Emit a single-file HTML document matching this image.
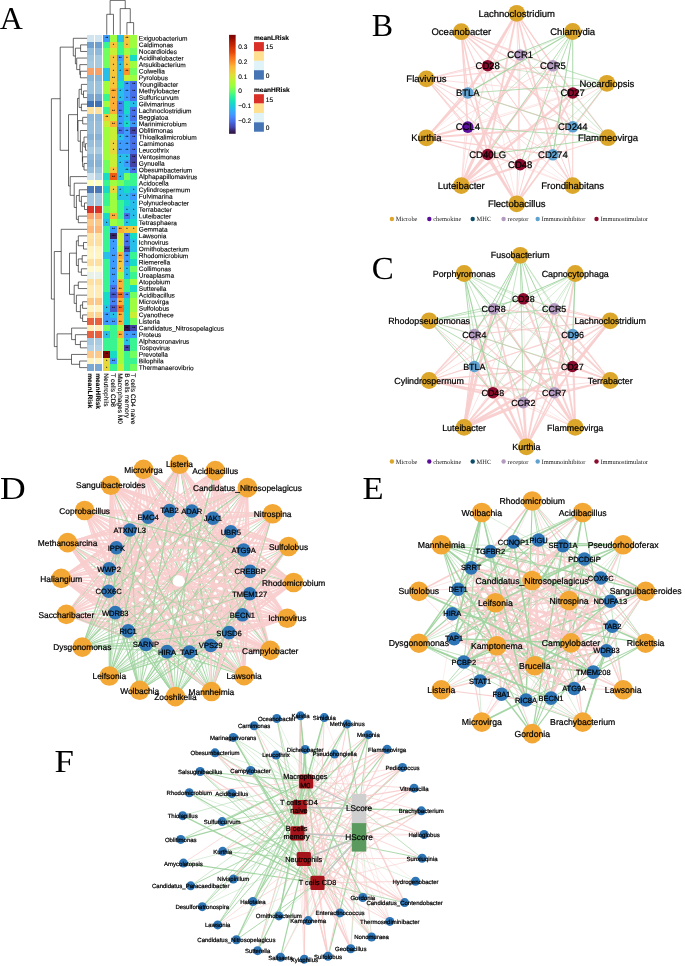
<!DOCTYPE html>
<html lang="en"><head><meta charset="utf-8"><title>Figure</title>
<style>
html,body{margin:0;padding:0;background:#fff;}
body{width:685px;height:966px;overflow:hidden;}
svg{display:block;}
.p{stroke:#f9cdcd;stroke-opacity:.92}
.g{stroke:#a0d3a0;stroke-opacity:.96}
text{text-rendering:geometricPrecision}
.nl text{stroke:#000;stroke-width:.22px;stroke-linejoin:round}
.hl text{stroke:#000;stroke-width:.12px}
</style></head><body>
<svg width="685" height="966" viewBox="0 0 685 966">
<rect x="0" y="0" width="685" height="966" fill="#ffffff"/>
<g shape-rendering="crispEdges">
<rect x="87.2" y="35" width="6.7" height="6.64" fill="#d1e5f0"/>
<rect x="94.9" y="35" width="6.7" height="6.64" fill="#d1e5f0"/>
<rect x="103.4" y="35" width="6.77" height="6.64" fill="#3e9bfe"/>
<rect x="110.12" y="35" width="6.77" height="6.64" fill="#9ffd3f"/>
<rect x="116.84" y="35" width="6.77" height="6.64" fill="#27bee9"/>
<rect x="123.56" y="35" width="6.77" height="6.64" fill="#f5c53a"/>
<rect x="130.28" y="35" width="6.77" height="6.64" fill="#9ffd3f"/>
<rect x="87.2" y="41.59" width="6.7" height="6.64" fill="#6f9fcf"/>
<rect x="94.9" y="41.59" width="6.7" height="6.64" fill="#6f9fcf"/>
<rect x="103.4" y="41.59" width="6.77" height="6.64" fill="#38f491"/>
<rect x="110.12" y="41.59" width="6.77" height="6.64" fill="#f5c53a"/>
<rect x="116.84" y="41.59" width="6.77" height="6.64" fill="#38f491"/>
<rect x="123.56" y="41.59" width="6.77" height="6.64" fill="#f5c53a"/>
<rect x="130.28" y="41.59" width="6.77" height="6.64" fill="#9ffd3f"/>
<rect x="87.2" y="48.17" width="6.7" height="6.64" fill="#92bedb"/>
<rect x="94.9" y="48.17" width="6.7" height="6.64" fill="#8fb9da"/>
<rect x="103.4" y="48.17" width="6.77" height="6.64" fill="#71fe5f"/>
<rect x="110.12" y="48.17" width="6.77" height="6.64" fill="#c8ef34"/>
<rect x="116.84" y="48.17" width="6.77" height="6.64" fill="#38f491"/>
<rect x="123.56" y="48.17" width="6.77" height="6.64" fill="#9ffd3f"/>
<rect x="130.28" y="48.17" width="6.77" height="6.64" fill="#71fe5f"/>
<rect x="87.2" y="54.76" width="6.7" height="6.64" fill="#a0c5de"/>
<rect x="94.9" y="54.76" width="6.7" height="6.64" fill="#a6cae0"/>
<rect x="103.4" y="54.76" width="6.77" height="6.64" fill="#71fe5f"/>
<rect x="110.12" y="54.76" width="6.77" height="6.64" fill="#f5c53a"/>
<rect x="116.84" y="54.76" width="6.77" height="6.64" fill="#3e9bfe"/>
<rect x="123.56" y="54.76" width="6.77" height="6.64" fill="#f5c53a"/>
<rect x="130.28" y="54.76" width="6.77" height="6.64" fill="#18dbc5"/>
<rect x="87.2" y="61.35" width="6.7" height="6.64" fill="#a6cae0"/>
<rect x="94.9" y="61.35" width="6.7" height="6.64" fill="#a6cae0"/>
<rect x="103.4" y="61.35" width="6.77" height="6.64" fill="#71fe5f"/>
<rect x="110.12" y="61.35" width="6.77" height="6.64" fill="#f5c53a"/>
<rect x="116.84" y="61.35" width="6.77" height="6.64" fill="#27bee9"/>
<rect x="123.56" y="61.35" width="6.77" height="6.64" fill="#f5c53a"/>
<rect x="130.28" y="61.35" width="6.77" height="6.64" fill="#9ffd3f"/>
<rect x="87.2" y="67.93" width="6.7" height="6.64" fill="#f9a066"/>
<rect x="94.9" y="67.93" width="6.7" height="6.64" fill="#f9a066"/>
<rect x="103.4" y="67.93" width="6.77" height="6.64" fill="#27bee9"/>
<rect x="110.12" y="67.93" width="6.77" height="6.64" fill="#f5c53a"/>
<rect x="116.84" y="67.93" width="6.77" height="6.64" fill="#27bee9"/>
<rect x="123.56" y="67.93" width="6.77" height="6.64" fill="#fe932a"/>
<rect x="130.28" y="67.93" width="6.77" height="6.64" fill="#71fe5f"/>
<rect x="87.2" y="74.52" width="6.7" height="6.64" fill="#8ab6d8"/>
<rect x="94.9" y="74.52" width="6.7" height="6.64" fill="#8ab6d8"/>
<rect x="103.4" y="74.52" width="6.77" height="6.64" fill="#27bee9"/>
<rect x="110.12" y="74.52" width="6.77" height="6.64" fill="#f5c53a"/>
<rect x="116.84" y="74.52" width="6.77" height="6.64" fill="#27bee9"/>
<rect x="123.56" y="74.52" width="6.77" height="6.64" fill="#c8ef34"/>
<rect x="130.28" y="74.52" width="6.77" height="6.64" fill="#9ffd3f"/>
<rect x="87.2" y="81.1" width="6.7" height="6.64" fill="#9cc3dd"/>
<rect x="94.9" y="81.1" width="6.7" height="6.64" fill="#9cc3dd"/>
<rect x="103.4" y="81.1" width="6.77" height="6.64" fill="#9ffd3f"/>
<rect x="110.12" y="81.1" width="6.77" height="6.64" fill="#f5c53a"/>
<rect x="116.84" y="81.1" width="6.77" height="6.64" fill="#18dbc5"/>
<rect x="123.56" y="81.1" width="6.77" height="6.64" fill="#3e9bfe"/>
<rect x="130.28" y="81.1" width="6.77" height="6.64" fill="#4771e9"/>
<rect x="87.2" y="87.69" width="6.7" height="6.64" fill="#9cc3dd"/>
<rect x="94.9" y="87.69" width="6.7" height="6.64" fill="#9cc3dd"/>
<rect x="103.4" y="87.69" width="6.77" height="6.64" fill="#9ffd3f"/>
<rect x="110.12" y="87.69" width="6.77" height="6.64" fill="#fdae35"/>
<rect x="116.84" y="87.69" width="6.77" height="6.64" fill="#27bee9"/>
<rect x="123.56" y="87.69" width="6.77" height="6.64" fill="#3e9bfe"/>
<rect x="130.28" y="87.69" width="6.77" height="6.64" fill="#4771e9"/>
<rect x="87.2" y="94.28" width="6.7" height="6.64" fill="#78a6d1"/>
<rect x="94.9" y="94.28" width="6.7" height="6.64" fill="#78a6d1"/>
<rect x="103.4" y="94.28" width="6.77" height="6.64" fill="#38f491"/>
<rect x="110.12" y="94.28" width="6.77" height="6.64" fill="#fdae35"/>
<rect x="116.84" y="94.28" width="6.77" height="6.64" fill="#27bee9"/>
<rect x="123.56" y="94.28" width="6.77" height="6.64" fill="#3e9bfe"/>
<rect x="130.28" y="94.28" width="6.77" height="6.64" fill="#4771e9"/>
<rect x="87.2" y="100.86" width="6.7" height="6.64" fill="#3f73b5"/>
<rect x="94.9" y="100.86" width="6.7" height="6.64" fill="#3f73b5"/>
<rect x="103.4" y="100.86" width="6.77" height="6.64" fill="#9ffd3f"/>
<rect x="110.12" y="100.86" width="6.77" height="6.64" fill="#fdae35"/>
<rect x="116.84" y="100.86" width="6.77" height="6.64" fill="#4680f6"/>
<rect x="123.56" y="100.86" width="6.77" height="6.64" fill="#18dbc5"/>
<rect x="130.28" y="100.86" width="6.77" height="6.64" fill="#27bee9"/>
<rect x="87.2" y="107.45" width="6.7" height="6.64" fill="#fee29d"/>
<rect x="94.9" y="107.45" width="6.7" height="6.64" fill="#fee29d"/>
<rect x="103.4" y="107.45" width="6.77" height="6.64" fill="#38f491"/>
<rect x="110.12" y="107.45" width="6.77" height="6.64" fill="#fdae35"/>
<rect x="116.84" y="107.45" width="6.77" height="6.64" fill="#4680f6"/>
<rect x="123.56" y="107.45" width="6.77" height="6.64" fill="#18dbc5"/>
<rect x="130.28" y="107.45" width="6.77" height="6.64" fill="#4771e9"/>
<rect x="87.2" y="114.04" width="6.7" height="6.64" fill="#8fb9da"/>
<rect x="94.9" y="114.04" width="6.7" height="6.64" fill="#8fb9da"/>
<rect x="103.4" y="114.04" width="6.77" height="6.64" fill="#f5c53a"/>
<rect x="110.12" y="114.04" width="6.77" height="6.64" fill="#c8ef34"/>
<rect x="116.84" y="114.04" width="6.77" height="6.64" fill="#3e9bfe"/>
<rect x="123.56" y="114.04" width="6.77" height="6.64" fill="#27bee9"/>
<rect x="130.28" y="114.04" width="6.77" height="6.64" fill="#4771e9"/>
<rect x="87.2" y="120.62" width="6.7" height="6.64" fill="#97bfdc"/>
<rect x="94.9" y="120.62" width="6.7" height="6.64" fill="#97bfdc"/>
<rect x="103.4" y="120.62" width="6.77" height="6.64" fill="#c8ef34"/>
<rect x="110.12" y="120.62" width="6.77" height="6.64" fill="#fdae35"/>
<rect x="116.84" y="120.62" width="6.77" height="6.64" fill="#3e9bfe"/>
<rect x="123.56" y="120.62" width="6.77" height="6.64" fill="#18dbc5"/>
<rect x="130.28" y="120.62" width="6.77" height="6.64" fill="#3e9bfe"/>
<rect x="87.2" y="127.21" width="6.7" height="6.64" fill="#97bfdc"/>
<rect x="94.9" y="127.21" width="6.7" height="6.64" fill="#97bfdc"/>
<rect x="103.4" y="127.21" width="6.77" height="6.64" fill="#9ffd3f"/>
<rect x="110.12" y="127.21" width="6.77" height="6.64" fill="#c8ef34"/>
<rect x="116.84" y="127.21" width="6.77" height="6.64" fill="#4771e9"/>
<rect x="123.56" y="127.21" width="6.77" height="6.64" fill="#3e9bfe"/>
<rect x="130.28" y="127.21" width="6.77" height="6.64" fill="#4143a7"/>
<rect x="87.2" y="133.79" width="6.7" height="6.64" fill="#86b2d6"/>
<rect x="94.9" y="133.79" width="6.7" height="6.64" fill="#86b2d6"/>
<rect x="103.4" y="133.79" width="6.77" height="6.64" fill="#9ffd3f"/>
<rect x="110.12" y="133.79" width="6.77" height="6.64" fill="#c8ef34"/>
<rect x="116.84" y="133.79" width="6.77" height="6.64" fill="#27bee9"/>
<rect x="123.56" y="133.79" width="6.77" height="6.64" fill="#3e9bfe"/>
<rect x="130.28" y="133.79" width="6.77" height="6.64" fill="#4771e9"/>
<rect x="87.2" y="140.38" width="6.7" height="6.64" fill="#97bfdc"/>
<rect x="94.9" y="140.38" width="6.7" height="6.64" fill="#97bfdc"/>
<rect x="103.4" y="140.38" width="6.77" height="6.64" fill="#9ffd3f"/>
<rect x="110.12" y="140.38" width="6.77" height="6.64" fill="#e7d739"/>
<rect x="116.84" y="140.38" width="6.77" height="6.64" fill="#3e9bfe"/>
<rect x="123.56" y="140.38" width="6.77" height="6.64" fill="#3e9bfe"/>
<rect x="130.28" y="140.38" width="6.77" height="6.64" fill="#4771e9"/>
<rect x="87.2" y="146.97" width="6.7" height="6.64" fill="#a9cce2"/>
<rect x="94.9" y="146.97" width="6.7" height="6.64" fill="#a9cce2"/>
<rect x="103.4" y="146.97" width="6.77" height="6.64" fill="#9ffd3f"/>
<rect x="110.12" y="146.97" width="6.77" height="6.64" fill="#e7d739"/>
<rect x="116.84" y="146.97" width="6.77" height="6.64" fill="#3e9bfe"/>
<rect x="123.56" y="146.97" width="6.77" height="6.64" fill="#3e9bfe"/>
<rect x="130.28" y="146.97" width="6.77" height="6.64" fill="#4771e9"/>
<rect x="87.2" y="153.55" width="6.7" height="6.64" fill="#8fb9da"/>
<rect x="94.9" y="153.55" width="6.7" height="6.64" fill="#8fb9da"/>
<rect x="103.4" y="153.55" width="6.77" height="6.64" fill="#9ffd3f"/>
<rect x="110.12" y="153.55" width="6.77" height="6.64" fill="#c8ef34"/>
<rect x="116.84" y="153.55" width="6.77" height="6.64" fill="#27bee9"/>
<rect x="123.56" y="153.55" width="6.77" height="6.64" fill="#27bee9"/>
<rect x="130.28" y="153.55" width="6.77" height="6.64" fill="#4143a7"/>
<rect x="87.2" y="160.14" width="6.7" height="6.64" fill="#86b2d6"/>
<rect x="94.9" y="160.14" width="6.7" height="6.64" fill="#86b2d6"/>
<rect x="103.4" y="160.14" width="6.77" height="6.64" fill="#71fe5f"/>
<rect x="110.12" y="160.14" width="6.77" height="6.64" fill="#c8ef34"/>
<rect x="116.84" y="160.14" width="6.77" height="6.64" fill="#27bee9"/>
<rect x="123.56" y="160.14" width="6.77" height="6.64" fill="#3e9bfe"/>
<rect x="130.28" y="160.14" width="6.77" height="6.64" fill="#4143a7"/>
<rect x="87.2" y="166.73" width="6.7" height="6.64" fill="#97bfdc"/>
<rect x="94.9" y="166.73" width="6.7" height="6.64" fill="#9cc3dd"/>
<rect x="103.4" y="166.73" width="6.77" height="6.64" fill="#71fe5f"/>
<rect x="110.12" y="166.73" width="6.77" height="6.64" fill="#f5c53a"/>
<rect x="116.84" y="166.73" width="6.77" height="6.64" fill="#27bee9"/>
<rect x="123.56" y="166.73" width="6.77" height="6.64" fill="#27bee9"/>
<rect x="130.28" y="166.73" width="6.77" height="6.64" fill="#4771e9"/>
<rect x="87.2" y="173.31" width="6.7" height="6.64" fill="#cfe3ef"/>
<rect x="94.9" y="173.31" width="6.7" height="6.64" fill="#b5d3e6"/>
<rect x="103.4" y="173.31" width="6.77" height="6.64" fill="#18dbc5"/>
<rect x="110.12" y="173.31" width="6.77" height="6.64" fill="#f05b12"/>
<rect x="116.84" y="173.31" width="6.77" height="6.64" fill="#27bee9"/>
<rect x="123.56" y="173.31" width="6.77" height="6.64" fill="#71fe5f"/>
<rect x="130.28" y="173.31" width="6.77" height="6.64" fill="#38f491"/>
<rect x="87.2" y="179.9" width="6.7" height="6.64" fill="#ffffc0"/>
<rect x="94.9" y="179.9" width="6.7" height="6.64" fill="#ffffc0"/>
<rect x="103.4" y="179.9" width="6.77" height="6.64" fill="#38f491"/>
<rect x="110.12" y="179.9" width="6.77" height="6.64" fill="#9ffd3f"/>
<rect x="116.84" y="179.9" width="6.77" height="6.64" fill="#71fe5f"/>
<rect x="123.56" y="179.9" width="6.77" height="6.64" fill="#38f491"/>
<rect x="130.28" y="179.9" width="6.77" height="6.64" fill="#38f491"/>
<rect x="87.2" y="186.48" width="6.7" height="6.64" fill="#4878b8"/>
<rect x="94.9" y="186.48" width="6.7" height="6.64" fill="#4878b8"/>
<rect x="103.4" y="186.48" width="6.77" height="6.64" fill="#18dbc5"/>
<rect x="110.12" y="186.48" width="6.77" height="6.64" fill="#e7d739"/>
<rect x="116.84" y="186.48" width="6.77" height="6.64" fill="#27bee9"/>
<rect x="123.56" y="186.48" width="6.77" height="6.64" fill="#18dbc5"/>
<rect x="130.28" y="186.48" width="6.77" height="6.64" fill="#27bee9"/>
<rect x="87.2" y="193.07" width="6.7" height="6.64" fill="#a3c8df"/>
<rect x="94.9" y="193.07" width="6.7" height="6.64" fill="#a3c8df"/>
<rect x="103.4" y="193.07" width="6.77" height="6.64" fill="#38f491"/>
<rect x="110.12" y="193.07" width="6.77" height="6.64" fill="#9ffd3f"/>
<rect x="116.84" y="193.07" width="6.77" height="6.64" fill="#27bee9"/>
<rect x="123.56" y="193.07" width="6.77" height="6.64" fill="#27bee9"/>
<rect x="130.28" y="193.07" width="6.77" height="6.64" fill="#3e9bfe"/>
<rect x="87.2" y="199.66" width="6.7" height="6.64" fill="#a3c8df"/>
<rect x="94.9" y="199.66" width="6.7" height="6.64" fill="#a3c8df"/>
<rect x="103.4" y="199.66" width="6.77" height="6.64" fill="#38f491"/>
<rect x="110.12" y="199.66" width="6.77" height="6.64" fill="#9ffd3f"/>
<rect x="116.84" y="199.66" width="6.77" height="6.64" fill="#38f491"/>
<rect x="123.56" y="199.66" width="6.77" height="6.64" fill="#18dbc5"/>
<rect x="130.28" y="199.66" width="6.77" height="6.64" fill="#27bee9"/>
<rect x="87.2" y="206.24" width="6.7" height="6.64" fill="#d93027"/>
<rect x="94.9" y="206.24" width="6.7" height="6.64" fill="#d93027"/>
<rect x="103.4" y="206.24" width="6.77" height="6.64" fill="#71fe5f"/>
<rect x="110.12" y="206.24" width="6.77" height="6.64" fill="#9ffd3f"/>
<rect x="116.84" y="206.24" width="6.77" height="6.64" fill="#38f491"/>
<rect x="123.56" y="206.24" width="6.77" height="6.64" fill="#27bee9"/>
<rect x="130.28" y="206.24" width="6.77" height="6.64" fill="#27bee9"/>
<rect x="87.2" y="212.83" width="6.7" height="6.64" fill="#fca66e"/>
<rect x="94.9" y="212.83" width="6.7" height="6.64" fill="#fca66e"/>
<rect x="103.4" y="212.83" width="6.77" height="6.64" fill="#18dbc5"/>
<rect x="110.12" y="212.83" width="6.77" height="6.64" fill="#fdae35"/>
<rect x="116.84" y="212.83" width="6.77" height="6.64" fill="#38f491"/>
<rect x="123.56" y="212.83" width="6.77" height="6.64" fill="#4771e9"/>
<rect x="130.28" y="212.83" width="6.77" height="6.64" fill="#27bee9"/>
<rect x="87.2" y="219.42" width="6.7" height="6.64" fill="#fdc986"/>
<rect x="94.9" y="219.42" width="6.7" height="6.64" fill="#fdc986"/>
<rect x="103.4" y="219.42" width="6.77" height="6.64" fill="#27bee9"/>
<rect x="110.12" y="219.42" width="6.77" height="6.64" fill="#9ffd3f"/>
<rect x="116.84" y="219.42" width="6.77" height="6.64" fill="#71fe5f"/>
<rect x="123.56" y="219.42" width="6.77" height="6.64" fill="#27bee9"/>
<rect x="130.28" y="219.42" width="6.77" height="6.64" fill="#18dbc5"/>
<rect x="87.2" y="226" width="6.7" height="6.64" fill="#fdb777"/>
<rect x="94.9" y="226" width="6.7" height="6.64" fill="#fdb777"/>
<rect x="103.4" y="226" width="6.77" height="6.64" fill="#38f491"/>
<rect x="110.12" y="226" width="6.77" height="6.64" fill="#3e9bfe"/>
<rect x="116.84" y="226" width="6.77" height="6.64" fill="#fdae35"/>
<rect x="123.56" y="226" width="6.77" height="6.64" fill="#f5c53a"/>
<rect x="130.28" y="226" width="6.77" height="6.64" fill="#f5c53a"/>
<rect x="87.2" y="232.59" width="6.7" height="6.64" fill="#fee5a5"/>
<rect x="94.9" y="232.59" width="6.7" height="6.64" fill="#fee5a5"/>
<rect x="103.4" y="232.59" width="6.77" height="6.64" fill="#38f491"/>
<rect x="110.12" y="232.59" width="6.77" height="6.64" fill="#38276d"/>
<rect x="116.84" y="232.59" width="6.77" height="6.64" fill="#c8ef34"/>
<rect x="123.56" y="232.59" width="6.77" height="6.64" fill="#4771e9"/>
<rect x="130.28" y="232.59" width="6.77" height="6.64" fill="#18dbc5"/>
<rect x="87.2" y="239.17" width="6.7" height="6.64" fill="#fee0a0"/>
<rect x="94.9" y="239.17" width="6.7" height="6.64" fill="#fee0a0"/>
<rect x="103.4" y="239.17" width="6.77" height="6.64" fill="#38f491"/>
<rect x="110.12" y="239.17" width="6.77" height="6.64" fill="#3e9bfe"/>
<rect x="116.84" y="239.17" width="6.77" height="6.64" fill="#c8ef34"/>
<rect x="123.56" y="239.17" width="6.77" height="6.64" fill="#4771e9"/>
<rect x="130.28" y="239.17" width="6.77" height="6.64" fill="#27bee9"/>
<rect x="87.2" y="245.76" width="6.7" height="6.64" fill="#fff3bf"/>
<rect x="94.9" y="245.76" width="6.7" height="6.64" fill="#fff3bf"/>
<rect x="103.4" y="245.76" width="6.77" height="6.64" fill="#38f491"/>
<rect x="110.12" y="245.76" width="6.77" height="6.64" fill="#3e9bfe"/>
<rect x="116.84" y="245.76" width="6.77" height="6.64" fill="#9ffd3f"/>
<rect x="123.56" y="245.76" width="6.77" height="6.64" fill="#4143a7"/>
<rect x="130.28" y="245.76" width="6.77" height="6.64" fill="#27bee9"/>
<rect x="87.2" y="252.35" width="6.7" height="6.64" fill="#fff6c4"/>
<rect x="94.9" y="252.35" width="6.7" height="6.64" fill="#fff6c4"/>
<rect x="103.4" y="252.35" width="6.77" height="6.64" fill="#27bee9"/>
<rect x="110.12" y="252.35" width="6.77" height="6.64" fill="#3e9bfe"/>
<rect x="116.84" y="252.35" width="6.77" height="6.64" fill="#fdae35"/>
<rect x="123.56" y="252.35" width="6.77" height="6.64" fill="#3e9bfe"/>
<rect x="130.28" y="252.35" width="6.77" height="6.64" fill="#38f491"/>
<rect x="87.2" y="258.93" width="6.7" height="6.64" fill="#fee0a0"/>
<rect x="94.9" y="258.93" width="6.7" height="6.64" fill="#fee0a0"/>
<rect x="103.4" y="258.93" width="6.77" height="6.64" fill="#38f491"/>
<rect x="110.12" y="258.93" width="6.77" height="6.64" fill="#3e9bfe"/>
<rect x="116.84" y="258.93" width="6.77" height="6.64" fill="#f5c53a"/>
<rect x="123.56" y="258.93" width="6.77" height="6.64" fill="#3e9bfe"/>
<rect x="130.28" y="258.93" width="6.77" height="6.64" fill="#18dbc5"/>
<rect x="87.2" y="265.52" width="6.7" height="6.64" fill="#fffacd"/>
<rect x="94.9" y="265.52" width="6.7" height="6.64" fill="#fffacd"/>
<rect x="103.4" y="265.52" width="6.77" height="6.64" fill="#38f491"/>
<rect x="110.12" y="265.52" width="6.77" height="6.64" fill="#3e9bfe"/>
<rect x="116.84" y="265.52" width="6.77" height="6.64" fill="#f5c53a"/>
<rect x="123.56" y="265.52" width="6.77" height="6.64" fill="#27bee9"/>
<rect x="130.28" y="265.52" width="6.77" height="6.64" fill="#71fe5f"/>
<rect x="87.2" y="272.11" width="6.7" height="6.64" fill="#e8f2e8"/>
<rect x="94.9" y="272.11" width="6.7" height="6.64" fill="#e8f2e8"/>
<rect x="103.4" y="272.11" width="6.77" height="6.64" fill="#38f491"/>
<rect x="110.12" y="272.11" width="6.77" height="6.64" fill="#3e9bfe"/>
<rect x="116.84" y="272.11" width="6.77" height="6.64" fill="#9ffd3f"/>
<rect x="123.56" y="272.11" width="6.77" height="6.64" fill="#27bee9"/>
<rect x="130.28" y="272.11" width="6.77" height="6.64" fill="#38f491"/>
<rect x="87.2" y="278.69" width="6.7" height="6.64" fill="#fee0a0"/>
<rect x="94.9" y="278.69" width="6.7" height="6.64" fill="#fee0a0"/>
<rect x="103.4" y="278.69" width="6.77" height="6.64" fill="#38f491"/>
<rect x="110.12" y="278.69" width="6.77" height="6.64" fill="#3e9bfe"/>
<rect x="116.84" y="278.69" width="6.77" height="6.64" fill="#fdae35"/>
<rect x="123.56" y="278.69" width="6.77" height="6.64" fill="#38f491"/>
<rect x="130.28" y="278.69" width="6.77" height="6.64" fill="#9ffd3f"/>
<rect x="87.2" y="285.28" width="6.7" height="6.64" fill="#ffedb5"/>
<rect x="94.9" y="285.28" width="6.7" height="6.64" fill="#ffedb5"/>
<rect x="103.4" y="285.28" width="6.77" height="6.64" fill="#38f491"/>
<rect x="110.12" y="285.28" width="6.77" height="6.64" fill="#4771e9"/>
<rect x="116.84" y="285.28" width="6.77" height="6.64" fill="#fdae35"/>
<rect x="123.56" y="285.28" width="6.77" height="6.64" fill="#38f491"/>
<rect x="130.28" y="285.28" width="6.77" height="6.64" fill="#18dbc5"/>
<rect x="87.2" y="291.86" width="6.7" height="6.64" fill="#ffedb5"/>
<rect x="94.9" y="291.86" width="6.7" height="6.64" fill="#ffedb5"/>
<rect x="103.4" y="291.86" width="6.77" height="6.64" fill="#18dbc5"/>
<rect x="110.12" y="291.86" width="6.77" height="6.64" fill="#4559cb"/>
<rect x="116.84" y="291.86" width="6.77" height="6.64" fill="#f76f1a"/>
<rect x="123.56" y="291.86" width="6.77" height="6.64" fill="#3e9bfe"/>
<rect x="130.28" y="291.86" width="6.77" height="6.64" fill="#71fe5f"/>
<rect x="87.2" y="298.45" width="6.7" height="6.64" fill="#fdc986"/>
<rect x="94.9" y="298.45" width="6.7" height="6.64" fill="#fdc986"/>
<rect x="103.4" y="298.45" width="6.77" height="6.64" fill="#18dbc5"/>
<rect x="110.12" y="298.45" width="6.77" height="6.64" fill="#4680f6"/>
<rect x="116.84" y="298.45" width="6.77" height="6.64" fill="#fdae35"/>
<rect x="123.56" y="298.45" width="6.77" height="6.64" fill="#18dbc5"/>
<rect x="130.28" y="298.45" width="6.77" height="6.64" fill="#9ffd3f"/>
<rect x="87.2" y="305.04" width="6.7" height="6.64" fill="#fff3bf"/>
<rect x="94.9" y="305.04" width="6.7" height="6.64" fill="#fff3bf"/>
<rect x="103.4" y="305.04" width="6.77" height="6.64" fill="#27bee9"/>
<rect x="110.12" y="305.04" width="6.77" height="6.64" fill="#4559cb"/>
<rect x="116.84" y="305.04" width="6.77" height="6.64" fill="#f76f1a"/>
<rect x="123.56" y="305.04" width="6.77" height="6.64" fill="#18dbc5"/>
<rect x="130.28" y="305.04" width="6.77" height="6.64" fill="#9ffd3f"/>
<rect x="87.2" y="311.62" width="6.7" height="6.64" fill="#fdd590"/>
<rect x="94.9" y="311.62" width="6.7" height="6.64" fill="#fdd590"/>
<rect x="103.4" y="311.62" width="6.77" height="6.64" fill="#3e9bfe"/>
<rect x="110.12" y="311.62" width="6.77" height="6.64" fill="#27bee9"/>
<rect x="116.84" y="311.62" width="6.77" height="6.64" fill="#fdae35"/>
<rect x="123.56" y="311.62" width="6.77" height="6.64" fill="#18dbc5"/>
<rect x="130.28" y="311.62" width="6.77" height="6.64" fill="#c8ef34"/>
<rect x="87.2" y="318.21" width="6.7" height="6.64" fill="#e9603f"/>
<rect x="94.9" y="318.21" width="6.7" height="6.64" fill="#e9603f"/>
<rect x="103.4" y="318.21" width="6.77" height="6.64" fill="#3e9bfe"/>
<rect x="110.12" y="318.21" width="6.77" height="6.64" fill="#3e9bfe"/>
<rect x="116.84" y="318.21" width="6.77" height="6.64" fill="#fdae35"/>
<rect x="123.56" y="318.21" width="6.77" height="6.64" fill="#18dbc5"/>
<rect x="130.28" y="318.21" width="6.77" height="6.64" fill="#71fe5f"/>
<rect x="87.2" y="324.8" width="6.7" height="6.64" fill="#ffedb5"/>
<rect x="94.9" y="324.8" width="6.7" height="6.64" fill="#ffedb5"/>
<rect x="103.4" y="324.8" width="6.77" height="6.64" fill="#71fe5f"/>
<rect x="110.12" y="324.8" width="6.77" height="6.64" fill="#38f491"/>
<rect x="116.84" y="324.8" width="6.77" height="6.64" fill="#9ffd3f"/>
<rect x="123.56" y="324.8" width="6.77" height="6.64" fill="#321543"/>
<rect x="130.28" y="324.8" width="6.77" height="6.64" fill="#4143a7"/>
<rect x="87.2" y="331.38" width="6.7" height="6.64" fill="#e9603f"/>
<rect x="94.9" y="331.38" width="6.7" height="6.64" fill="#e9603f"/>
<rect x="103.4" y="331.38" width="6.77" height="6.64" fill="#27bee9"/>
<rect x="110.12" y="331.38" width="6.77" height="6.64" fill="#38f491"/>
<rect x="116.84" y="331.38" width="6.77" height="6.64" fill="#fdae35"/>
<rect x="123.56" y="331.38" width="6.77" height="6.64" fill="#3e9bfe"/>
<rect x="130.28" y="331.38" width="6.77" height="6.64" fill="#3e9bfe"/>
<rect x="87.2" y="337.97" width="6.7" height="6.64" fill="#a3c8df"/>
<rect x="94.9" y="337.97" width="6.7" height="6.64" fill="#a9cce2"/>
<rect x="103.4" y="337.97" width="6.77" height="6.64" fill="#38f491"/>
<rect x="110.12" y="337.97" width="6.77" height="6.64" fill="#38f491"/>
<rect x="116.84" y="337.97" width="6.77" height="6.64" fill="#9ffd3f"/>
<rect x="123.56" y="337.97" width="6.77" height="6.64" fill="#27bee9"/>
<rect x="130.28" y="337.97" width="6.77" height="6.64" fill="#38f491"/>
<rect x="87.2" y="344.55" width="6.7" height="6.64" fill="#b5d3e6"/>
<rect x="94.9" y="344.55" width="6.7" height="6.64" fill="#b5d3e6"/>
<rect x="103.4" y="344.55" width="6.77" height="6.64" fill="#38f491"/>
<rect x="110.12" y="344.55" width="6.77" height="6.64" fill="#38f491"/>
<rect x="116.84" y="344.55" width="6.77" height="6.64" fill="#9ffd3f"/>
<rect x="123.56" y="344.55" width="6.77" height="6.64" fill="#4143a7"/>
<rect x="130.28" y="344.55" width="6.77" height="6.64" fill="#38f491"/>
<rect x="87.2" y="351.14" width="6.7" height="6.64" fill="#fdc98a"/>
<rect x="94.9" y="351.14" width="6.7" height="6.64" fill="#fdc98a"/>
<rect x="103.4" y="351.14" width="6.77" height="6.64" fill="#810602"/>
<rect x="110.12" y="351.14" width="6.77" height="6.64" fill="#18dbc5"/>
<rect x="116.84" y="351.14" width="6.77" height="6.64" fill="#9ffd3f"/>
<rect x="123.56" y="351.14" width="6.77" height="6.64" fill="#38f491"/>
<rect x="130.28" y="351.14" width="6.77" height="6.64" fill="#71fe5f"/>
<rect x="87.2" y="357.73" width="6.7" height="6.64" fill="#fff3bf"/>
<rect x="94.9" y="357.73" width="6.7" height="6.64" fill="#fff3bf"/>
<rect x="103.4" y="357.73" width="6.77" height="6.64" fill="#e7d739"/>
<rect x="110.12" y="357.73" width="6.77" height="6.64" fill="#3e9bfe"/>
<rect x="116.84" y="357.73" width="6.77" height="6.64" fill="#9ffd3f"/>
<rect x="123.56" y="357.73" width="6.77" height="6.64" fill="#38f491"/>
<rect x="130.28" y="357.73" width="6.77" height="6.64" fill="#38f491"/>
<rect x="87.2" y="364.31" width="6.7" height="6.64" fill="#7aa8d2"/>
<rect x="94.9" y="364.31" width="6.7" height="6.64" fill="#7aa8d2"/>
<rect x="103.4" y="364.31" width="6.77" height="6.64" fill="#e7d739"/>
<rect x="110.12" y="364.31" width="6.77" height="6.64" fill="#38f491"/>
<rect x="116.84" y="364.31" width="6.77" height="6.64" fill="#c8ef34"/>
<rect x="123.56" y="364.31" width="6.77" height="6.64" fill="#38f491"/>
<rect x="130.28" y="364.31" width="6.77" height="6.64" fill="#71fe5f"/>
</g>
<g font-family='"Liberation Sans", Arial, Helvetica, sans-serif' font-size="3.5" font-weight="bold" text-anchor="middle" fill="#000">
<text x="106.76" y="39.29">**</text>
<text x="126.92" y="39.29">**</text>
<text x="113.48" y="45.88">*</text>
<text x="126.92" y="45.88">*</text>
<text x="113.48" y="59.05">*</text>
<text x="120.2" y="59.05">**</text>
<text x="126.92" y="59.05">*</text>
<text x="113.48" y="65.64">*</text>
<text x="120.2" y="65.64">*</text>
<text x="126.92" y="65.64">*</text>
<text x="113.48" y="72.22">*</text>
<text x="120.2" y="72.22">*</text>
<text x="126.92" y="72.22">**</text>
<text x="113.48" y="78.81">**</text>
<text x="113.48" y="85.4">*</text>
<text x="126.92" y="85.4">**</text>
<text x="133.64" y="85.4">**</text>
<text x="113.48" y="91.98">***</text>
<text x="120.2" y="91.98">*</text>
<text x="126.92" y="91.98">**</text>
<text x="133.64" y="91.98">**</text>
<text x="113.48" y="98.57">**</text>
<text x="120.2" y="98.57">*</text>
<text x="126.92" y="98.57">*</text>
<text x="133.64" y="98.57">**</text>
<text x="113.48" y="105.16">*</text>
<text x="120.2" y="105.16">**</text>
<text x="133.64" y="105.16">*</text>
<text x="113.48" y="111.74">**</text>
<text x="120.2" y="111.74">**</text>
<text x="133.64" y="111.74">**</text>
<text x="106.76" y="118.33">**</text>
<text x="120.2" y="118.33">**</text>
<text x="126.92" y="118.33">*</text>
<text x="133.64" y="118.33">**</text>
<text x="113.48" y="124.91">**</text>
<text x="120.2" y="124.91">**</text>
<text x="126.92" y="124.91">*</text>
<text x="133.64" y="124.91">**</text>
<text x="120.2" y="131.5">**</text>
<text x="126.92" y="131.5">**</text>
<text x="133.64" y="131.5">**</text>
<text x="120.2" y="138.09">*</text>
<text x="126.92" y="138.09">**</text>
<text x="133.64" y="138.09">**</text>
<text x="113.48" y="144.67">*</text>
<text x="120.2" y="144.67">*</text>
<text x="126.92" y="144.67">**</text>
<text x="133.64" y="144.67">**</text>
<text x="113.48" y="151.26">*</text>
<text x="120.2" y="151.26">**</text>
<text x="126.92" y="151.26">**</text>
<text x="133.64" y="151.26">**</text>
<text x="120.2" y="157.85">*</text>
<text x="126.92" y="157.85">*</text>
<text x="133.64" y="157.85">**</text>
<text x="120.2" y="164.43">*</text>
<text x="126.92" y="164.43">**</text>
<text x="133.64" y="164.43">**</text>
<text x="113.48" y="171.02">*</text>
<text x="126.92" y="171.02">**</text>
<text x="133.64" y="171.02">**</text>
<text x="113.48" y="177.6">**</text>
<text x="120.2" y="177.6">*</text>
<text x="113.48" y="190.78">*</text>
<text x="120.2" y="190.78">*</text>
<text x="133.64" y="190.78">*</text>
<text x="120.2" y="197.36">*</text>
<text x="126.92" y="197.36">*</text>
<text x="133.64" y="197.36">**</text>
<text x="133.64" y="203.95">*</text>
<text x="126.92" y="210.54">*</text>
<text x="133.64" y="210.54">*</text>
<text x="113.48" y="217.12">**</text>
<text x="126.92" y="217.12">**</text>
<text x="133.64" y="217.12">*</text>
<text x="106.76" y="223.71">*</text>
<text x="126.92" y="223.71">*</text>
<text x="113.48" y="230.3">**</text>
<text x="120.2" y="230.3">**</text>
<text x="126.92" y="230.3">*</text>
<text x="133.64" y="230.3">*</text>
<text x="113.48" y="236.88">***</text>
<text x="126.92" y="236.88">**</text>
<text x="113.48" y="243.47">*</text>
<text x="126.92" y="243.47">**</text>
<text x="133.64" y="243.47">*</text>
<text x="113.48" y="250.05">*</text>
<text x="126.92" y="250.05">***</text>
<text x="113.48" y="256.64">**</text>
<text x="120.2" y="256.64">**</text>
<text x="126.92" y="256.64">**</text>
<text x="113.48" y="263.23">*</text>
<text x="120.2" y="263.23">**</text>
<text x="126.92" y="263.23">**</text>
<text x="113.48" y="269.81">**</text>
<text x="120.2" y="269.81">*</text>
<text x="126.92" y="269.81">*</text>
<text x="113.48" y="276.4">**</text>
<text x="126.92" y="276.4">*</text>
<text x="113.48" y="282.99">*</text>
<text x="120.2" y="282.99">**</text>
<text x="113.48" y="289.57">**</text>
<text x="120.2" y="289.57">**</text>
<text x="113.48" y="296.16">***</text>
<text x="120.2" y="296.16">***</text>
<text x="126.92" y="296.16">**</text>
<text x="113.48" y="302.74">**</text>
<text x="120.2" y="302.74">**</text>
<text x="106.76" y="309.33">*</text>
<text x="113.48" y="309.33">**</text>
<text x="120.2" y="309.33">**</text>
<text x="106.76" y="315.92">**</text>
<text x="113.48" y="315.92">*</text>
<text x="120.2" y="315.92">**</text>
<text x="106.76" y="322.5">**</text>
<text x="113.48" y="322.5">**</text>
<text x="120.2" y="322.5">**</text>
<text x="126.92" y="329.09">**</text>
<text x="133.64" y="329.09">**</text>
<text x="106.76" y="335.68">*</text>
<text x="120.2" y="335.68">**</text>
<text x="126.92" y="335.68">*</text>
<text x="133.64" y="335.68">**</text>
<text x="126.92" y="342.26">*</text>
<text x="126.92" y="348.85">**</text>
<text x="106.76" y="355.43">**</text>
<text x="106.76" y="362.02">*</text>
<text x="113.48" y="362.02">**</text>
<text x="106.76" y="368.61">*</text>
</g>
<g class="hl" font-family='"Liberation Sans", Arial, Helvetica, sans-serif' font-size="6.55" fill="#000">
<text transform="translate(138.8,40.49) rotate(0.4)">Exiguobacterium</text>
<text transform="translate(138.8,47.08) rotate(0.4)">Caldimonas</text>
<text transform="translate(138.8,53.67) rotate(0.4)">Nocardioides</text>
<text transform="translate(138.8,60.25) rotate(0.4)">Acidihalobacter</text>
<text transform="translate(138.8,66.84) rotate(0.4)">Arsukibacterium</text>
<text transform="translate(138.8,73.42) rotate(0.4)">Colwellia</text>
<text transform="translate(138.8,80.01) rotate(0.4)">Pyrolobus</text>
<text transform="translate(138.8,86.6) rotate(0.4)">Youngiibacter</text>
<text transform="translate(138.8,93.18) rotate(0.4)">Methylobacter</text>
<text transform="translate(138.8,99.77) rotate(0.4)">Sulfuricurvum</text>
<text transform="translate(138.8,106.36) rotate(0.4)">Gilvimarinus</text>
<text transform="translate(138.8,112.94) rotate(0.4)">Lachnoclostridium</text>
<text transform="translate(138.8,119.53) rotate(0.4)">Beggiatoa</text>
<text transform="translate(138.8,126.11) rotate(0.4)">Marinimicrobium</text>
<text transform="translate(138.8,132.7) rotate(0.4)">Oblitimonas</text>
<text transform="translate(138.8,139.29) rotate(0.4)">Thioalkalimicrobium</text>
<text transform="translate(138.8,145.87) rotate(0.4)">Carnimonas</text>
<text transform="translate(138.8,152.46) rotate(0.4)">Leucothrix</text>
<text transform="translate(138.8,159.05) rotate(0.4)">Ventosimonas</text>
<text transform="translate(138.8,165.63) rotate(0.4)">Gynuella</text>
<text transform="translate(138.8,172.22) rotate(0.4)">Obesumbacterium</text>
<text transform="translate(138.8,178.8) rotate(0.4)">Alphapapillomavirus</text>
<text transform="translate(138.8,185.39) rotate(0.4)">Acidocella</text>
<text transform="translate(138.8,191.98) rotate(0.4)">Cylindrospermum</text>
<text transform="translate(138.8,198.56) rotate(0.4)">Fulvimarina</text>
<text transform="translate(138.8,205.15) rotate(0.4)">Polynucleobacter</text>
<text transform="translate(138.8,211.74) rotate(0.4)">Terrabacter</text>
<text transform="translate(138.8,218.32) rotate(0.4)">Luteibacter</text>
<text transform="translate(138.8,224.91) rotate(0.4)">Tetrasphaera</text>
<text transform="translate(138.8,231.5) rotate(0.4)">Gemmata</text>
<text transform="translate(138.8,238.08) rotate(0.4)">Lawsonia</text>
<text transform="translate(138.8,244.67) rotate(0.4)">Ichnovirus</text>
<text transform="translate(138.8,251.25) rotate(0.4)">Ornithobacterium</text>
<text transform="translate(138.8,257.84) rotate(0.4)">Rhodomicrobium</text>
<text transform="translate(138.8,264.43) rotate(0.4)">Riemerella</text>
<text transform="translate(138.8,271.01) rotate(0.4)">Collimonas</text>
<text transform="translate(138.8,277.6) rotate(0.4)">Ureaplasma</text>
<text transform="translate(138.8,284.19) rotate(0.4)">Atopobium</text>
<text transform="translate(138.8,290.77) rotate(0.4)">Sutterella</text>
<text transform="translate(138.8,297.36) rotate(0.4)">Acidibacillus</text>
<text transform="translate(138.8,303.94) rotate(0.4)">Microvirga</text>
<text transform="translate(138.8,310.53) rotate(0.4)">Sulfolobus</text>
<text transform="translate(138.8,317.12) rotate(0.4)">Cyanothece</text>
<text transform="translate(138.8,323.7) rotate(0.4)">Listeria</text>
<text transform="translate(138.8,330.29) rotate(0.4)">Candidatus_Nitrosopelagicus</text>
<text transform="translate(138.8,336.88) rotate(0.4)">Proteus</text>
<text transform="translate(138.8,343.46) rotate(0.4)">Alphacoronavirus</text>
<text transform="translate(138.8,350.05) rotate(0.4)">Tospovirus</text>
<text transform="translate(138.8,356.63) rotate(0.4)">Prevotella</text>
<text transform="translate(138.8,363.22) rotate(0.4)">Bilophila</text>
<text transform="translate(138.8,369.81) rotate(0.4)">Thermanaerovibrio</text>
</g>
<g class="hl" font-family='"Liberation Sans", Arial, Helvetica, sans-serif' font-size="6.55" fill="#000">
<text transform="translate(88.25,373.3) rotate(90)" font-weight="bold">meanLRisk</text>
<text transform="translate(95.95,373.3) rotate(90)" font-weight="bold">meanHRisk</text>
<text transform="translate(104.46,373.3) rotate(90)">Neutrophils</text>
<text transform="translate(111.18,373.3) rotate(90)">T cells CD8</text>
<text transform="translate(117.9,373.3) rotate(90)">Macrophages M0</text>
<text transform="translate(124.62,373.3) rotate(90)">B cells memory</text>
<text transform="translate(131.34,373.3) rotate(90)">T cells CD4 naive</text>
</g>
<path d="M87.1 44.88H80.6V51.47H87.1M87.1 71.22H80.4V77.81H87.1M87.1 64.64H79.8V74.52H80.4M87.1 58.05H76.7V69.58H79.8M80.6 48.17H75.4V63.81H76.7M87.1 38.29H73.3V55.99H75.4M87.1 90.98H83.5V97.57H87.1M87.1 84.4H81.4V94.28H83.5M87.1 104.16H81.4V110.74H87.1M81.4 89.34H79.1V107.45H81.4M87.1 117.33H82.7V123.91H87.1M87.1 143.67H85.5V150.26H87.1M87.1 137.09H84V146.97H85.5M87.1 163.43H84V170.02H87.1M87.1 156.85H82.6V166.73H84M84 142.03H82.4V161.79H82.6M87.1 130.5H80.4V151.91H82.4M82.7 120.62H78V141.2H80.4M79.1 98.39H77.5V130.91H78M87.1 202.95H84.5V209.54H87.1M87.1 196.36H81.4V206.24H84.5M87.1 189.78H79.3V201.3H81.4M87.1 216.12H78.3V222.71H87.1M79.3 195.54H76.4V219.42H78.3M87.1 183.19H74.2V207.48H76.4M87.1 176.6H70.2V195.33H74.2M77.5 114.65H68.5V185.97H70.2M73.3 47.14H60.2V150.31H68.5M87.1 242.47H83.5V249.05H87.1M87.1 235.88H78.3V245.76H83.5M87.1 255.64H82.2V262.23H87.1M87.1 268.81H81.4V275.4H87.1M82.2 258.93H78.3V272.11H81.4M78.3 240.82H76.4V265.52H78.3M87.1 281.99H78.3V288.57H87.1M87.1 301.74H82.6V308.33H87.1M87.1 314.92H82.6V321.5H87.1M82.6 305.04H80.4V318.21H82.6M87.1 295.16H76.4V311.62H80.4M78.3 285.28H74.2V303.39H76.4M76.4 253.17H69.5V294.33H74.2M87.1 229.3H61.2V273.75H69.5M87.1 341.26H80.4V347.85H87.1M87.1 334.68H75.4V344.55H80.4M87.1 328.09H71.6V339.62H75.4M87.1 361.02H79.6V367.61H87.1M87.1 354.43H71.5V364.31H79.6M71.6 333.85H57.1V359.37H71.5M61.2 251.52H54.3V346.61H57.1M60.2 98.73H51.4V299.07H54.3" fill="none" stroke="#1a1a1a" stroke-width="0.65"/>
<path d="M106.76 34.7V14.3H113.48V34.7M126.92 34.7V22.6H133.64V34.7M120.2 34.7V8.6H130.28V22.6M110.12 14.3V0.4H125.24V8.6" fill="none" stroke="#1a1a1a" stroke-width="0.65"/>
<defs><linearGradient id="tb" x1="0" y1="1" x2="0" y2="0">
<stop offset="0" stop-color="#30123b"/>
<stop offset="0.03" stop-color="#372466"/>
<stop offset="0.05" stop-color="#3d358b"/>
<stop offset="0.07" stop-color="#4249b1"/>
<stop offset="0.1" stop-color="#4559cb"/>
<stop offset="0.12" stop-color="#466be3"/>
<stop offset="0.15" stop-color="#477bf2"/>
<stop offset="0.17" stop-color="#458afc"/>
<stop offset="0.2" stop-color="#3e9bfe"/>
<stop offset="0.23" stop-color="#35abf8"/>
<stop offset="0.25" stop-color="#28bceb"/>
<stop offset="0.28" stop-color="#1fc9dd"/>
<stop offset="0.3" stop-color="#19d5cd"/>
<stop offset="0.33" stop-color="#19e2bb"/>
<stop offset="0.35" stop-color="#20eaac"/>
<stop offset="0.38" stop-color="#32f298"/>
<stop offset="0.4" stop-color="#46f884"/>
<stop offset="0.42" stop-color="#5dfc6f"/>
<stop offset="0.45" stop-color="#79fe59"/>
<stop offset="0.47" stop-color="#8fff49"/>
<stop offset="0.5" stop-color="#a4fc3c"/>
<stop offset="0.53" stop-color="#b4f836"/>
<stop offset="0.55" stop-color="#c3f134"/>
<stop offset="0.57" stop-color="#d4e735"/>
<stop offset="0.6" stop-color="#e1dd37"/>
<stop offset="0.62" stop-color="#eecf3a"/>
<stop offset="0.65" stop-color="#f6c33a"/>
<stop offset="0.68" stop-color="#fbb637"/>
<stop offset="0.7" stop-color="#fea431"/>
<stop offset="0.72" stop-color="#fe932a"/>
<stop offset="0.75" stop-color="#fb7e21"/>
<stop offset="0.78" stop-color="#f66c19"/>
<stop offset="0.8" stop-color="#f05b12"/>
<stop offset="0.82" stop-color="#e7490c"/>
<stop offset="0.85" stop-color="#dd3d08"/>
<stop offset="0.88" stop-color="#d02f05"/>
<stop offset="0.9" stop-color="#c32503"/>
<stop offset="0.93" stop-color="#b41b01"/>
<stop offset="0.95" stop-color="#a11201"/>
<stop offset="0.97" stop-color="#8e0a01"/>
<stop offset="1" stop-color="#7a0403"/>
</linearGradient></defs>
<rect x="229.05" y="34.85" width="6.6" height="98.95" fill="url(#tb)"/>
<g class="hl" font-family='"Liberation Sans", Arial, Helvetica, sans-serif' font-size="6.55" fill="#000">
<text x="238.2" y="49">0.3</text>
<text x="238.2" y="63.8">0.2</text>
<text x="238.2" y="78.8">0.1</text>
<text x="238.2" y="93.4">0</text>
<text x="238.2" y="108.4">−0.1</text>
<text x="238.2" y="123.2">−0.2</text>
<text x="254" y="39.8" font-weight="bold">meanLRisk</text>
<rect x="254" y="42.1" width="9.9" height="9.4" fill="#d93027"/>
<rect x="254" y="51.47" width="9.9" height="9.4" fill="#fee090"/>
<rect x="254" y="60.84" width="9.9" height="9.4" fill="#e0f3f8"/>
<rect x="254" y="70.21" width="9.9" height="9.4" fill="#4575b4"/>
<text x="265.8" y="49.4">15</text>
<text x="265.8" y="77.9">0</text>
<text x="254" y="91.9" font-weight="bold">meanHRisk</text>
<rect x="254" y="94.2" width="9.9" height="9.4" fill="#d93027"/>
<rect x="254" y="103.57" width="9.9" height="9.4" fill="#fee090"/>
<rect x="254" y="112.94" width="9.9" height="9.4" fill="#e0f3f8"/>
<rect x="254" y="122.31" width="9.9" height="9.4" fill="#4575b4"/>
<text x="265.8" y="101.5">15</text>
<text x="265.8" y="130">0</text>
</g>
<g font-family='"Liberation Serif", "Times New Roman", serif' font-size="32" fill="#000">
<text transform="translate(-0.3,28.9) scale(1.0,1)">A</text>
<text transform="translate(371.8,35.6) scale(1.0,1)">B</text>
<text transform="translate(371.8,279) scale(1.03,1)">C</text>
<text transform="translate(0,498.5) scale(1.11,1)">D</text>
<text transform="translate(362.6,498.5) scale(1.08,1)">E</text>
<text transform="translate(54.5,772) scale(1.09,1)">F</text>
</g>
<g fill="none">
<path class="p" d="M516.7 13.3L520.2 55" stroke-width="1.19"/>
<path class="p" d="M516.7 13.3L552.9 65.8" stroke-width="0.99"/>
<path class="p" d="M516.7 13.3L572.7 93" stroke-width="1.25"/>
<path class="p" d="M516.7 13.3L572.8 126.8" stroke-width="1.09"/>
<path class="p" d="M516.7 13.3L552.9 154.8" stroke-width="1.78"/>
<path class="p" d="M516.7 13.3L520.2 164.6" stroke-width="0.7"/>
<path class="p" d="M516.7 13.3L487.7 154.5" stroke-width="1.83"/>
<path class="p" d="M516.7 13.3L467.8 127.1" stroke-width="0.41"/>
<path class="p" d="M516.7 13.3L467.8 93" stroke-width="2.29"/>
<path class="p" d="M516.7 13.3L487.7 65.7" stroke-width="1.32"/>
<path class="p" d="M606.9 83.3L552.9 154.8" stroke-width="1.24"/>
<path class="p" d="M606.9 83.3L487.7 154.5" stroke-width="0.73"/>
<path class="p" d="M606.9 83.3L467.8 127.1" stroke-width="0.65"/>
<path class="p" d="M608 137.7L552.9 65.8" stroke-width="1.04"/>
<path class="p" d="M608 137.7L552.9 154.8" stroke-width="0.46"/>
<path class="p" d="M608 137.7L520.2 164.6" stroke-width="0.68"/>
<path class="p" d="M608 137.7L487.7 65.7" stroke-width="0.52"/>
<path class="p" d="M572.7 185.6L520.2 55" stroke-width="0.96"/>
<path class="p" d="M572.7 185.6L552.9 65.8" stroke-width="1.06"/>
<path class="p" d="M572.7 185.6L572.7 93" stroke-width="0.58"/>
<path class="p" d="M572.7 185.6L572.8 126.8" stroke-width="0.79"/>
<path class="p" d="M572.7 185.6L552.9 154.8" stroke-width="1.19"/>
<path class="p" d="M572.7 185.6L520.2 164.6" stroke-width="0.49"/>
<path class="p" d="M572.7 185.6L487.7 154.5" stroke-width="0.54"/>
<path class="p" d="M572.7 185.6L467.8 127.1" stroke-width="0.41"/>
<path class="p" d="M572.7 185.6L467.8 93" stroke-width="0.74"/>
<path class="p" d="M572.7 185.6L487.7 65.7" stroke-width="0.75"/>
<path class="p" d="M516.7 203.8L520.2 55" stroke-width="0.91"/>
<path class="p" d="M516.7 203.8L552.9 65.8" stroke-width="0.96"/>
<path class="p" d="M516.7 203.8L572.7 93" stroke-width="1.83"/>
<path class="p" d="M516.7 203.8L572.8 126.8" stroke-width="0.49"/>
<path class="p" d="M516.7 203.8L552.9 154.8" stroke-width="1.7"/>
<path class="p" d="M516.7 203.8L520.2 164.6" stroke-width="0.53"/>
<path class="p" d="M516.7 203.8L487.7 154.5" stroke-width="2.03"/>
<path class="p" d="M516.7 203.8L467.8 127.1" stroke-width="2.06"/>
<path class="p" d="M516.7 203.8L467.8 93" stroke-width="1.2"/>
<path class="p" d="M516.7 203.8L487.7 65.7" stroke-width="0.45"/>
<path class="p" d="M461.3 185.6L520.2 55" stroke-width="3.03"/>
<path class="p" d="M461.3 185.6L552.9 65.8" stroke-width="2"/>
<path class="p" d="M461.3 185.6L572.7 93" stroke-width="2.45"/>
<path class="p" d="M461.3 185.6L572.8 126.8" stroke-width="0.79"/>
<path class="p" d="M461.3 185.6L552.9 154.8" stroke-width="2.06"/>
<path class="p" d="M461.3 185.6L520.2 164.6" stroke-width="0.66"/>
<path class="p" d="M461.3 185.6L487.7 154.5" stroke-width="2.57"/>
<path class="p" d="M461.3 185.6L467.8 127.1" stroke-width="0.77"/>
<path class="p" d="M461.3 185.6L467.8 93" stroke-width="0.62"/>
<path class="p" d="M461.3 185.6L487.7 65.7" stroke-width="0.74"/>
<path class="p" d="M426.4 137.8L520.2 55" stroke-width="0.42"/>
<path class="p" d="M426.4 137.8L552.9 65.8" stroke-width="0.76"/>
<path class="p" d="M426.4 137.8L572.7 93" stroke-width="0.47"/>
<path class="p" d="M426.4 137.8L572.8 126.8" stroke-width="1.9"/>
<path class="p" d="M426.4 137.8L552.9 154.8" stroke-width="1.32"/>
<path class="p" d="M426.4 137.8L520.2 164.6" stroke-width="1.16"/>
<path class="p" d="M426.4 137.8L487.7 154.5" stroke-width="0.41"/>
<path class="p" d="M426.4 137.8L467.8 127.1" stroke-width="1.95"/>
<path class="p" d="M426.4 137.8L467.8 93" stroke-width="2.09"/>
<path class="p" d="M426.4 137.8L487.7 65.7" stroke-width="1.27"/>
<path class="p" d="M426.4 78.9L520.2 55" stroke-width="0.88"/>
<path class="p" d="M426.4 78.9L552.9 65.8" stroke-width="1.2"/>
<path class="p" d="M426.4 78.9L572.7 93" stroke-width="0.7"/>
<path class="p" d="M426.4 78.9L572.8 126.8" stroke-width="1.08"/>
<path class="p" d="M426.4 78.9L552.9 154.8" stroke-width="0.86"/>
<path class="p" d="M426.4 78.9L520.2 164.6" stroke-width="1.09"/>
<path class="p" d="M426.4 78.9L487.7 154.5" stroke-width="0.84"/>
<path class="p" d="M426.4 78.9L467.8 127.1" stroke-width="1.04"/>
<path class="p" d="M426.4 78.9L467.8 93" stroke-width="0.95"/>
<path class="p" d="M426.4 78.9L487.7 65.7" stroke-width="0.73"/>
<path class="p" d="M461.3 31.7L520.2 55" stroke-width="0.74"/>
<path class="p" d="M461.3 31.7L552.9 65.8" stroke-width="1.12"/>
<path class="p" d="M461.3 31.7L572.7 93" stroke-width="1.18"/>
<path class="p" d="M461.3 31.7L572.8 126.8" stroke-width="1.7"/>
<path class="p" d="M461.3 31.7L552.9 154.8" stroke-width="0.75"/>
<path class="p" d="M461.3 31.7L520.2 164.6" stroke-width="1.07"/>
<path class="p" d="M461.3 31.7L487.7 154.5" stroke-width="1.61"/>
<path class="p" d="M461.3 31.7L467.8 127.1" stroke-width="1.41"/>
<path class="p" d="M461.3 31.7L467.8 93" stroke-width="1.11"/>
<path class="p" d="M461.3 31.7L487.7 65.7" stroke-width="0.55"/>
<path class="g" d="M572.7 31.5L520.2 55" stroke-width="0.4"/>
<path class="g" d="M572.7 31.5L552.9 65.8" stroke-width="0.41"/>
<path class="g" d="M572.7 31.5L572.7 93" stroke-width="0.5"/>
<path class="g" d="M572.7 31.5L572.8 126.8" stroke-width="0.65"/>
<path class="g" d="M572.7 31.5L552.9 154.8" stroke-width="1.02"/>
<path class="g" d="M572.7 31.5L520.2 164.6" stroke-width="0.81"/>
<path class="g" d="M572.7 31.5L487.7 154.5" stroke-width="0.83"/>
<path class="g" d="M572.7 31.5L467.8 127.1" stroke-width="0.52"/>
<path class="g" d="M572.7 31.5L467.8 93" stroke-width="1.19"/>
<path class="g" d="M572.7 31.5L487.7 65.7" stroke-width="0.88"/>
<path class="g" d="M606.9 83.3L520.2 55" stroke-width="0.49"/>
<path class="g" d="M606.9 83.3L552.9 65.8" stroke-width="0.41"/>
<path class="g" d="M606.9 83.3L572.7 93" stroke-width="0.6"/>
<path class="g" d="M606.9 83.3L572.8 126.8" stroke-width="0.59"/>
<path class="g" d="M606.9 83.3L520.2 164.6" stroke-width="0.48"/>
<path class="g" d="M606.9 83.3L467.8 93" stroke-width="0.8"/>
<path class="g" d="M606.9 83.3L487.7 65.7" stroke-width="0.51"/>
<path class="g" d="M608 137.7L520.2 55" stroke-width="0.55"/>
<path class="g" d="M608 137.7L572.7 93" stroke-width="0.5"/>
<path class="g" d="M608 137.7L572.8 126.8" stroke-width="0.41"/>
<path class="g" d="M608 137.7L487.7 154.5" stroke-width="0.9"/>
<path class="g" d="M608 137.7L467.8 127.1" stroke-width="0.81"/>
<path class="g" d="M608 137.7L467.8 93" stroke-width="0.62"/>
</g>
<circle cx="516.7" cy="13.3" r="8.4" fill="#dba62a"/>
<circle cx="572.7" cy="31.5" r="8.4" fill="#dba62a"/>
<circle cx="606.9" cy="83.3" r="8.4" fill="#dba62a"/>
<circle cx="608" cy="137.7" r="8.4" fill="#dba62a"/>
<circle cx="572.7" cy="185.6" r="8.4" fill="#dba62a"/>
<circle cx="516.7" cy="203.8" r="8.4" fill="#dba62a"/>
<circle cx="461.3" cy="185.6" r="8.4" fill="#dba62a"/>
<circle cx="426.4" cy="137.8" r="8.4" fill="#dba62a"/>
<circle cx="426.4" cy="78.9" r="8.4" fill="#dba62a"/>
<circle cx="461.3" cy="31.7" r="8.4" fill="#dba62a"/>
<circle cx="520.2" cy="55" r="5.8" fill="#b39bc0"/>
<circle cx="552.9" cy="65.8" r="5.8" fill="#b39bc0"/>
<circle cx="572.7" cy="93" r="5.8" fill="#8c0a2e"/>
<circle cx="572.8" cy="126.8" r="5.8" fill="#5fa2d1"/>
<circle cx="552.9" cy="154.8" r="5.8" fill="#5fa2d1"/>
<circle cx="520.2" cy="164.6" r="5.8" fill="#8c0a2e"/>
<circle cx="487.7" cy="154.5" r="5.8" fill="#8c0a2e"/>
<circle cx="467.8" cy="127.1" r="5.8" fill="#5a0d9a"/>
<circle cx="467.8" cy="93" r="5.8" fill="#5fa2d1"/>
<circle cx="487.7" cy="65.7" r="5.8" fill="#8c0a2e"/>
<g class="nl" font-family='"Liberation Sans", Arial, Helvetica, sans-serif' font-size="9.5" text-anchor="middle" fill="#000">
<text x="516.7" y="16.62">Lachnoclostridium</text>
<text x="572.7" y="34.83">Chlamydia</text>
<text x="606.9" y="86.62">Nocardiopsis</text>
<text x="608" y="141.02">Flammeovirga</text>
<text x="572.7" y="188.92">Frondihabitans</text>
<text x="516.7" y="207.12">Flectobacillus</text>
<text x="461.3" y="188.92">Luteibacter</text>
<text x="426.4" y="141.12">Kurthia</text>
<text x="426.4" y="82.23">Flavivirus</text>
<text x="461.3" y="35.02">Oceanobacter</text>
<text x="520.2" y="58.33">CCR1</text>
<text x="552.9" y="69.12">CCR5</text>
<text x="572.7" y="96.33">CD27</text>
<text x="572.8" y="130.12">CD244</text>
<text x="552.9" y="158.12">CD274</text>
<text x="520.2" y="167.92">CD48</text>
<text x="487.7" y="157.82">CD40LG</text>
<text x="467.8" y="130.42">CCL4</text>
<text x="467.8" y="96.33">BTLA</text>
<text x="487.7" y="69.03">CD28</text>
</g>
<g font-family='"Liberation Serif", "Times New Roman", serif' font-size="6.4" fill="#222">
<circle cx="391.9" cy="219" r="2.2" fill="#dba62a"/>
<text x="395.8" y="221">Microbe</text>
<circle cx="429.3" cy="219" r="2.2" fill="#5a0d9a"/>
<text x="433.2" y="221">chemokine</text>
<circle cx="472.7" cy="219" r="2.2" fill="#0d4d68"/>
<text x="476.6" y="221">MHC</text>
<circle cx="503.6" cy="219" r="2.2" fill="#b39bc0"/>
<text x="507.5" y="221">receptor</text>
<circle cx="537.7" cy="219" r="2.2" fill="#5fa2d1"/>
<text x="541.6" y="221">Immunoinhibitor</text>
<circle cx="596.5" cy="219" r="2.2" fill="#8c0a2e"/>
<text x="600.4" y="221">Immunostimulator</text>
</g>
<g fill="none">
<path class="p" d="M575.2 273.5L554.2 392.7" stroke-width="1.87"/>
<path class="p" d="M610.2 320.8L523.3 298.8" stroke-width="0.95"/>
<path class="p" d="M610.2 320.8L554.2 308.9" stroke-width="1.07"/>
<path class="p" d="M610.2 320.8L572.7 334.5" stroke-width="0.41"/>
<path class="p" d="M610.2 320.8L572.4 366.5" stroke-width="2.49"/>
<path class="p" d="M610.2 320.8L554.2 392.7" stroke-width="1.54"/>
<path class="p" d="M610.2 320.8L523.3 402.6" stroke-width="0.84"/>
<path class="p" d="M610.2 320.8L492.9 392.7" stroke-width="1.57"/>
<path class="p" d="M610.2 320.8L474.3 366.5" stroke-width="0.62"/>
<path class="p" d="M610.2 320.8L474.3 334.5" stroke-width="1.15"/>
<path class="p" d="M610.2 320.8L493.6 308.9" stroke-width="1.13"/>
<path class="p" d="M610.2 380.5L523.3 298.8" stroke-width="1.86"/>
<path class="p" d="M610.2 380.5L554.2 308.9" stroke-width="1.1"/>
<path class="p" d="M610.2 380.5L572.7 334.5" stroke-width="0.91"/>
<path class="p" d="M610.2 380.5L572.4 366.5" stroke-width="1.72"/>
<path class="p" d="M610.2 380.5L554.2 392.7" stroke-width="1.17"/>
<path class="p" d="M610.2 380.5L523.3 402.6" stroke-width="1.52"/>
<path class="p" d="M610.2 380.5L492.9 392.7" stroke-width="0.66"/>
<path class="p" d="M610.2 380.5L474.3 366.5" stroke-width="1.37"/>
<path class="p" d="M610.2 380.5L474.3 334.5" stroke-width="0.98"/>
<path class="p" d="M610.2 380.5L493.6 308.9" stroke-width="0.66"/>
<path class="p" d="M575.2 427.4L523.3 298.8" stroke-width="1.9"/>
<path class="p" d="M575.2 427.4L554.2 308.9" stroke-width="1.89"/>
<path class="p" d="M575.2 427.4L572.7 334.5" stroke-width="1.81"/>
<path class="p" d="M575.2 427.4L572.4 366.5" stroke-width="0.51"/>
<path class="p" d="M575.2 427.4L554.2 392.7" stroke-width="1.78"/>
<path class="p" d="M575.2 427.4L523.3 402.6" stroke-width="0.59"/>
<path class="p" d="M575.2 427.4L492.9 392.7" stroke-width="0.69"/>
<path class="p" d="M575.2 427.4L474.3 366.5" stroke-width="0.4"/>
<path class="p" d="M575.2 427.4L474.3 334.5" stroke-width="1.14"/>
<path class="p" d="M575.2 427.4L493.6 308.9" stroke-width="2"/>
<path class="p" d="M526.4 446.8L523.3 298.8" stroke-width="0.41"/>
<path class="p" d="M526.4 446.8L554.2 308.9" stroke-width="1.9"/>
<path class="p" d="M526.4 446.8L572.7 334.5" stroke-width="1.48"/>
<path class="p" d="M526.4 446.8L572.4 366.5" stroke-width="1.19"/>
<path class="p" d="M526.4 446.8L554.2 392.7" stroke-width="1.44"/>
<path class="p" d="M526.4 446.8L523.3 402.6" stroke-width="2.42"/>
<path class="p" d="M526.4 446.8L492.9 392.7" stroke-width="0.52"/>
<path class="p" d="M526.4 446.8L474.3 366.5" stroke-width="2.17"/>
<path class="p" d="M526.4 446.8L474.3 334.5" stroke-width="2.41"/>
<path class="p" d="M526.4 446.8L493.6 308.9" stroke-width="1.63"/>
<path class="p" d="M464.1 427.4L523.3 298.8" stroke-width="0.64"/>
<path class="p" d="M464.1 427.4L554.2 308.9" stroke-width="0.71"/>
<path class="p" d="M464.1 427.4L572.7 334.5" stroke-width="1.96"/>
<path class="p" d="M464.1 427.4L572.4 366.5" stroke-width="2.71"/>
<path class="p" d="M464.1 427.4L554.2 392.7" stroke-width="0.69"/>
<path class="p" d="M464.1 427.4L523.3 402.6" stroke-width="3.11"/>
<path class="p" d="M464.1 427.4L492.9 392.7" stroke-width="1.72"/>
<path class="p" d="M464.1 427.4L474.3 366.5" stroke-width="3.03"/>
<path class="p" d="M464.1 427.4L474.3 334.5" stroke-width="1.09"/>
<path class="p" d="M464.1 427.4L493.6 308.9" stroke-width="2.77"/>
<path class="p" d="M429.1 380.5L523.3 298.8" stroke-width="1.15"/>
<path class="p" d="M429.1 380.5L554.2 308.9" stroke-width="0.76"/>
<path class="p" d="M429.1 380.5L572.7 334.5" stroke-width="1.12"/>
<path class="p" d="M429.1 380.5L572.4 366.5" stroke-width="1.44"/>
<path class="p" d="M429.1 380.5L554.2 392.7" stroke-width="1.65"/>
<path class="p" d="M429.1 380.5L523.3 402.6" stroke-width="1.95"/>
<path class="p" d="M429.1 380.5L492.9 392.7" stroke-width="1.63"/>
<path class="p" d="M429.1 380.5L474.3 366.5" stroke-width="0.44"/>
<path class="p" d="M429.1 380.5L474.3 334.5" stroke-width="0.68"/>
<path class="p" d="M429.1 380.5L493.6 308.9" stroke-width="1.39"/>
<path class="p" d="M429.1 320.8L572.7 334.5" stroke-width="0.65"/>
<path class="p" d="M429.1 320.8L474.3 366.5" stroke-width="0.96"/>
<path class="p" d="M429.1 320.8L474.3 334.5" stroke-width="0.62"/>
<path class="g" d="M520.2 255.3L523.3 298.8" stroke-width="0.83"/>
<path class="g" d="M520.2 255.3L554.2 308.9" stroke-width="0.44"/>
<path class="g" d="M520.2 255.3L572.7 334.5" stroke-width="0.58"/>
<path class="g" d="M520.2 255.3L572.4 366.5" stroke-width="0.98"/>
<path class="g" d="M520.2 255.3L554.2 392.7" stroke-width="0.77"/>
<path class="g" d="M520.2 255.3L523.3 402.6" stroke-width="0.83"/>
<path class="g" d="M520.2 255.3L492.9 392.7" stroke-width="0.63"/>
<path class="g" d="M520.2 255.3L474.3 366.5" stroke-width="1.09"/>
<path class="g" d="M520.2 255.3L474.3 334.5" stroke-width="0.99"/>
<path class="g" d="M520.2 255.3L493.6 308.9" stroke-width="0.86"/>
<path class="g" d="M575.2 273.5L523.3 298.8" stroke-width="0.61"/>
<path class="g" d="M575.2 273.5L554.2 308.9" stroke-width="0.4"/>
<path class="g" d="M575.2 273.5L572.7 334.5" stroke-width="1.1"/>
<path class="g" d="M575.2 273.5L572.4 366.5" stroke-width="0.42"/>
<path class="g" d="M575.2 273.5L523.3 402.6" stroke-width="0.62"/>
<path class="g" d="M575.2 273.5L492.9 392.7" stroke-width="0.54"/>
<path class="g" d="M575.2 273.5L474.3 366.5" stroke-width="0.45"/>
<path class="g" d="M575.2 273.5L474.3 334.5" stroke-width="0.41"/>
<path class="g" d="M575.2 273.5L493.6 308.9" stroke-width="0.99"/>
<path class="g" d="M429.1 320.8L523.3 298.8" stroke-width="0.79"/>
<path class="g" d="M429.1 320.8L554.2 308.9" stroke-width="0.71"/>
<path class="g" d="M429.1 320.8L572.4 366.5" stroke-width="0.61"/>
<path class="g" d="M429.1 320.8L554.2 392.7" stroke-width="0.85"/>
<path class="g" d="M429.1 320.8L523.3 402.6" stroke-width="0.42"/>
<path class="g" d="M429.1 320.8L492.9 392.7" stroke-width="0.86"/>
<path class="g" d="M429.1 320.8L493.6 308.9" stroke-width="0.67"/>
<path class="g" d="M464.1 273.5L523.3 298.8" stroke-width="0.46"/>
<path class="g" d="M464.1 273.5L554.2 308.9" stroke-width="0.56"/>
<path class="g" d="M464.1 273.5L572.7 334.5" stroke-width="0.55"/>
<path class="g" d="M464.1 273.5L572.4 366.5" stroke-width="0.4"/>
<path class="g" d="M464.1 273.5L554.2 392.7" stroke-width="0.52"/>
<path class="g" d="M464.1 273.5L523.3 402.6" stroke-width="0.63"/>
<path class="g" d="M464.1 273.5L492.9 392.7" stroke-width="1.1"/>
<path class="g" d="M464.1 273.5L474.3 366.5" stroke-width="0.87"/>
<path class="g" d="M464.1 273.5L474.3 334.5" stroke-width="0.65"/>
<path class="g" d="M464.1 273.5L493.6 308.9" stroke-width="1.02"/>
</g>
<circle cx="520.2" cy="255.3" r="8.4" fill="#dba62a"/>
<circle cx="575.2" cy="273.5" r="8.4" fill="#dba62a"/>
<circle cx="610.2" cy="320.8" r="8.4" fill="#dba62a"/>
<circle cx="610.2" cy="380.5" r="8.4" fill="#dba62a"/>
<circle cx="575.2" cy="427.4" r="8.4" fill="#dba62a"/>
<circle cx="526.4" cy="446.8" r="8.4" fill="#dba62a"/>
<circle cx="464.1" cy="427.4" r="8.4" fill="#dba62a"/>
<circle cx="429.1" cy="380.5" r="8.4" fill="#dba62a"/>
<circle cx="429.1" cy="320.8" r="8.4" fill="#dba62a"/>
<circle cx="464.1" cy="273.5" r="8.4" fill="#dba62a"/>
<circle cx="523.3" cy="298.8" r="5.8" fill="#8c0a2e"/>
<circle cx="554.2" cy="308.9" r="5.8" fill="#b39bc0"/>
<circle cx="572.7" cy="334.5" r="5.8" fill="#5fa2d1"/>
<circle cx="572.4" cy="366.5" r="5.8" fill="#8c0a2e"/>
<circle cx="554.2" cy="392.7" r="5.8" fill="#b39bc0"/>
<circle cx="523.3" cy="402.6" r="5.8" fill="#b39bc0"/>
<circle cx="492.9" cy="392.7" r="5.8" fill="#8c0a2e"/>
<circle cx="474.3" cy="366.5" r="5.8" fill="#5fa2d1"/>
<circle cx="474.3" cy="334.5" r="5.8" fill="#b39bc0"/>
<circle cx="493.6" cy="308.9" r="5.8" fill="#b39bc0"/>
<g class="nl" font-family='"Liberation Sans", Arial, Helvetica, sans-serif' font-size="8.9" text-anchor="middle" fill="#000">
<text x="520.2" y="258.42">Fusobacterium</text>
<text x="575.2" y="276.62">Capnocytophaga</text>
<text x="610.2" y="323.92">Lachnoclostridium</text>
<text x="610.2" y="383.62">Terrabacter</text>
<text x="575.2" y="430.51">Flammeovirga</text>
<text x="526.4" y="449.92">Kurthia</text>
<text x="464.1" y="430.51">Luteibacter</text>
<text x="429.1" y="383.62">Cylindrospermum</text>
<text x="429.1" y="323.92">Rhodopseudomonas</text>
<text x="464.1" y="276.62">Porphyromonas</text>
<text x="523.3" y="301.92">CD28</text>
<text x="554.2" y="312.01">CCR5</text>
<text x="572.7" y="337.62">CD96</text>
<text x="572.4" y="369.62">CD27</text>
<text x="554.2" y="395.81">CCR7</text>
<text x="523.3" y="405.72">CCR2</text>
<text x="492.9" y="395.81">CD48</text>
<text x="474.3" y="369.62">BTLA</text>
<text x="474.3" y="337.62">CCR4</text>
<text x="493.6" y="312.01">CCR8</text>
</g>
<g font-family='"Liberation Serif", "Times New Roman", serif' font-size="6.4" fill="#222">
<circle cx="391.9" cy="461.5" r="2.2" fill="#dba62a"/>
<text x="395.8" y="463.5">Microbe</text>
<circle cx="429.3" cy="461.5" r="2.2" fill="#5a0d9a"/>
<text x="433.2" y="463.5">chemokine</text>
<circle cx="472.7" cy="461.5" r="2.2" fill="#0d4d68"/>
<text x="476.6" y="463.5">MHC</text>
<circle cx="503.6" cy="461.5" r="2.2" fill="#b39bc0"/>
<text x="507.5" y="463.5">receptor</text>
<circle cx="537.7" cy="461.5" r="2.2" fill="#5fa2d1"/>
<text x="541.6" y="463.5">Immunoinhibitor</text>
<circle cx="596.5" cy="461.5" r="2.2" fill="#8c0a2e"/>
<text x="600.4" y="463.5">Immunostimulator</text>
</g>
<g fill="none">
<path class="g" d="M247.38 487.65L189.34 652.01" stroke-width="0.56"/>
<path class="g" d="M272.64 513.8L115.23 612.6" stroke-width="0.57"/>
<path class="g" d="M272.64 513.8L169.46 510.59" stroke-width="0.69"/>
<path class="g" d="M288.57 546.48L128.04 630.9" stroke-width="0.78"/>
<path class="g" d="M293.63 582.48L212.92 518.26" stroke-width="1.16"/>
<path class="g" d="M293.63 582.48L250.11 571.36" stroke-width="0.91"/>
<path class="g" d="M270.25 650.38L242.44 614.82" stroke-width="1.26"/>
<path class="g" d="M270.25 650.38L148.1 517.13" stroke-width="0.59"/>
<path class="g" d="M244.1 675.64L249.72 593.7" stroke-width="0.87"/>
<path class="g" d="M244.1 675.64L242.44 614.82" stroke-width="1"/>
<path class="g" d="M244.1 675.64L167 651.62" stroke-width="0.52"/>
<path class="g" d="M244.1 675.64L145.88 644.34" stroke-width="0.86"/>
<path class="g" d="M244.1 675.64L129.8 529.94" stroke-width="0.6"/>
<path class="g" d="M211.42 691.57L212.92 518.26" stroke-width="0.68"/>
<path class="g" d="M211.42 691.57L242.44 614.82" stroke-width="0.54"/>
<path class="g" d="M211.42 691.57L167 651.62" stroke-width="0.64"/>
<path class="g" d="M211.42 691.57L145.88 644.34" stroke-width="0.97"/>
<path class="g" d="M211.42 691.57L128.04 630.9" stroke-width="0.98"/>
<path class="g" d="M211.42 691.57L129.8 529.94" stroke-width="0.51"/>
<path class="g" d="M175.42 696.63L242.44 614.82" stroke-width="1.13"/>
<path class="g" d="M175.42 696.63L210.7 645.47" stroke-width="0.8"/>
<path class="g" d="M175.42 696.63L145.88 644.34" stroke-width="0.61"/>
<path class="g" d="M175.42 696.63L109.08 568.9" stroke-width="0.66"/>
<path class="g" d="M175.42 696.63L116.36 547.78" stroke-width="0.76"/>
<path class="g" d="M175.42 696.63L148.1 517.13" stroke-width="0.6"/>
<path class="g" d="M139.62 690.32L191.8 510.98" stroke-width="0.9"/>
<path class="g" d="M139.62 690.32L189.34 652.01" stroke-width="0.91"/>
<path class="g" d="M139.62 690.32L115.23 612.6" stroke-width="0.77"/>
<path class="g" d="M139.62 690.32L109.08 568.9" stroke-width="1.2"/>
<path class="g" d="M109.3 676L250.11 571.36" stroke-width="0.57"/>
<path class="g" d="M109.3 676L249.72 593.7" stroke-width="1.23"/>
<path class="g" d="M109.3 676L242.44 614.82" stroke-width="1.13"/>
<path class="g" d="M109.3 676L189.34 652.01" stroke-width="0.54"/>
<path class="g" d="M109.3 676L167 651.62" stroke-width="0.66"/>
<path class="g" d="M109.3 676L108.69 591.24" stroke-width="0.69"/>
<path class="g" d="M109.3 676L169.46 510.59" stroke-width="0.66"/>
<path class="g" d="M82.26 647.1L212.92 518.26" stroke-width="1.16"/>
<path class="g" d="M82.26 647.1L250.11 571.36" stroke-width="0.91"/>
<path class="g" d="M82.26 647.1L189.34 652.01" stroke-width="0.55"/>
<path class="g" d="M82.26 647.1L145.88 644.34" stroke-width="0.88"/>
<path class="g" d="M82.26 647.1L115.23 612.6" stroke-width="1.07"/>
<path class="g" d="M66.33 614.42L169.46 510.59" stroke-width="1"/>
<path class="g" d="M67.58 542.62L189.34 652.01" stroke-width="1.09"/>
<path class="g" d="M211.42 691.57L189.34 652.01" stroke-width="0.86"/>
<path class="p" d="M179.48 464.27L229 632.66" stroke-width="1.5"/>
<path class="g" d="M175.42 696.63L229 632.66" stroke-width="0.69"/>
<path class="p" d="M215.28 470.58L229 632.66" stroke-width="2.68"/>
<path class="p" d="M61.27 578.42L242.44 614.82" stroke-width="2.16"/>
<path class="p" d="M287.32 618.28L109.08 568.9" stroke-width="2.62"/>
<path class="p" d="M84.65 510.52L128.04 630.9" stroke-width="0.83"/>
<path class="p" d="M67.58 542.62L167 651.62" stroke-width="1.47"/>
<path class="p" d="M287.32 618.28L148.1 517.13" stroke-width="1.02"/>
<path class="p" d="M143.48 469.33L242.44 614.82" stroke-width="2.64"/>
<path class="p" d="M179.48 464.27L169.46 510.59" stroke-width="1.02"/>
<path class="p" d="M215.28 470.58L115.23 612.6" stroke-width="1.61"/>
<path class="p" d="M272.64 513.8L229 632.66" stroke-width="1.74"/>
<path class="p" d="M67.58 542.62L116.36 547.78" stroke-width="0.8"/>
<path class="p" d="M179.48 464.27L116.36 547.78" stroke-width="1.27"/>
<path class="p" d="M247.38 487.65L148.1 517.13" stroke-width="1.64"/>
<path class="p" d="M143.48 469.33L148.1 517.13" stroke-width="0.84"/>
<path class="p" d="M211.42 691.57L115.23 612.6" stroke-width="2.43"/>
<path class="p" d="M287.32 618.28L242.44 614.82" stroke-width="1.32"/>
<path class="p" d="M84.65 510.52L109.08 568.9" stroke-width="2.38"/>
<path class="p" d="M293.63 582.48L230.76 531.7" stroke-width="2.13"/>
<path class="g" d="M211.42 691.57L249.72 593.7" stroke-width="0.82"/>
<path class="p" d="M179.48 464.27L128.04 630.9" stroke-width="2.61"/>
<path class="p" d="M110.8 485.26L108.69 591.24" stroke-width="2.1"/>
<path class="p" d="M66.33 614.42L108.69 591.24" stroke-width="1"/>
<path class="p" d="M270.25 650.38L191.8 510.98" stroke-width="0.88"/>
<path class="p" d="M270.25 650.38L129.8 529.94" stroke-width="1.27"/>
<path class="p" d="M61.27 578.42L249.72 593.7" stroke-width="1.4"/>
<path class="p" d="M143.48 469.33L191.8 510.98" stroke-width="1.02"/>
<path class="p" d="M270.25 650.38L128.04 630.9" stroke-width="2.14"/>
<path class="g" d="M288.57 546.48L212.92 518.26" stroke-width="0.83"/>
<path class="p" d="M288.57 546.48L109.08 568.9" stroke-width="1.24"/>
<path class="p" d="M215.28 470.58L242.44 614.82" stroke-width="1.8"/>
<path class="p" d="M244.1 675.64L250.11 571.36" stroke-width="1.64"/>
<path class="p" d="M110.8 485.26L129.8 529.94" stroke-width="1.17"/>
<path class="p" d="M84.65 510.52L148.1 517.13" stroke-width="0.88"/>
<path class="p" d="M67.58 542.62L191.8 510.98" stroke-width="2.29"/>
<path class="g" d="M175.42 696.63L189.34 652.01" stroke-width="1.06"/>
<path class="p" d="M287.32 618.28L128.04 630.9" stroke-width="2.54"/>
<path class="p" d="M247.38 487.65L169.46 510.59" stroke-width="0.91"/>
<path class="p" d="M61.27 578.42L167 651.62" stroke-width="1.93"/>
<path class="p" d="M110.8 485.26L250.11 571.36" stroke-width="2.26"/>
<path class="g" d="M272.64 513.8L116.36 547.78" stroke-width="0.53"/>
<path class="p" d="M67.58 542.62L230.76 531.7" stroke-width="1.53"/>
<path class="p" d="M288.57 546.48L229 632.66" stroke-width="2"/>
<path class="p" d="M110.8 485.26L109.08 568.9" stroke-width="0.84"/>
<path class="p" d="M270.25 650.38L115.23 612.6" stroke-width="1.24"/>
<path class="p" d="M179.48 464.27L129.8 529.94" stroke-width="1.83"/>
<path class="g" d="M175.42 696.63L115.23 612.6" stroke-width="1.05"/>
<path class="p" d="M287.32 618.28L169.46 510.59" stroke-width="2.08"/>
<path class="p" d="M215.28 470.58L145.88 644.34" stroke-width="1.41"/>
<path class="p" d="M272.64 513.8L250.11 571.36" stroke-width="0.91"/>
<path class="p" d="M288.57 546.48L230.76 531.7" stroke-width="2.12"/>
<path class="p" d="M215.28 470.58L129.8 529.94" stroke-width="1.19"/>
<path class="p" d="M247.38 487.65L167 651.62" stroke-width="1.63"/>
<path class="p" d="M82.26 647.1L108.69 591.24" stroke-width="0.9"/>
<path class="g" d="M175.42 696.63L108.69 591.24" stroke-width="1.07"/>
<path class="p" d="M288.57 546.48L145.88 644.34" stroke-width="1.17"/>
<path class="p" d="M84.65 510.52L145.88 644.34" stroke-width="1.69"/>
<path class="p" d="M293.63 582.48L167 651.62" stroke-width="1.04"/>
<path class="p" d="M143.48 469.33L116.36 547.78" stroke-width="1.9"/>
<path class="p" d="M272.64 513.8L230.76 531.7" stroke-width="1.36"/>
<path class="p" d="M84.65 510.52L210.7 645.47" stroke-width="0.83"/>
<path class="p" d="M272.64 513.8L249.72 593.7" stroke-width="0.93"/>
<path class="g" d="M211.42 691.57L230.76 531.7" stroke-width="0.76"/>
<path class="p" d="M67.58 542.62L108.69 591.24" stroke-width="2.12"/>
<path class="p" d="M84.65 510.52L108.69 591.24" stroke-width="0.83"/>
<path class="p" d="M272.64 513.8L167 651.62" stroke-width="2.59"/>
<path class="g" d="M175.42 696.63L250.11 571.36" stroke-width="0.51"/>
<path class="p" d="M110.8 485.26L145.88 644.34" stroke-width="1.69"/>
<path class="p" d="M287.32 618.28L230.76 531.7" stroke-width="2.1"/>
<path class="g" d="M211.42 691.57L169.46 510.59" stroke-width="0.64"/>
<path class="p" d="M84.65 510.52L167 651.62" stroke-width="1.23"/>
<path class="p" d="M247.38 487.65L109.08 568.9" stroke-width="2.26"/>
<path class="p" d="M272.64 513.8L145.88 644.34" stroke-width="1.14"/>
<path class="p" d="M244.1 675.64L189.34 652.01" stroke-width="1.05"/>
<path class="p" d="M288.57 546.48L250.11 571.36" stroke-width="0.84"/>
<path class="p" d="M61.27 578.42L191.8 510.98" stroke-width="1.15"/>
<path class="p" d="M288.57 546.48L129.8 529.94" stroke-width="2.17"/>
<path class="p" d="M143.48 469.33L128.04 630.9" stroke-width="1.75"/>
<path class="p" d="M110.8 485.26L229 632.66" stroke-width="1.74"/>
<path class="p" d="M293.63 582.48L116.36 547.78" stroke-width="1.2"/>
<path class="p" d="M247.38 487.65L242.44 614.82" stroke-width="2.12"/>
<path class="p" d="M215.28 470.58L212.92 518.26" stroke-width="1.29"/>
<path class="p" d="M179.48 464.27L230.76 531.7" stroke-width="1.7"/>
<path class="p" d="M270.25 650.38L212.92 518.26" stroke-width="1.52"/>
<path class="p" d="M84.65 510.52L191.8 510.98" stroke-width="0.86"/>
<path class="p" d="M293.63 582.48L249.72 593.7" stroke-width="0.82"/>
<path class="p" d="M143.48 469.33L189.34 652.01" stroke-width="1.72"/>
<path class="g" d="M175.42 696.63L167 651.62" stroke-width="1.27"/>
<path class="g" d="M139.62 690.32L230.76 531.7" stroke-width="1.13"/>
<path class="p" d="M272.64 513.8L148.1 517.13" stroke-width="0.86"/>
<path class="p" d="M110.8 485.26L167 651.62" stroke-width="1.09"/>
<path class="p" d="M270.25 650.38L189.34 652.01" stroke-width="2.42"/>
<path class="g" d="M175.42 696.63L169.46 510.59" stroke-width="0.77"/>
<path class="p" d="M215.28 470.58L250.11 571.36" stroke-width="1.2"/>
<path class="p" d="M66.33 614.42L210.7 645.47" stroke-width="2.64"/>
<path class="p" d="M84.65 510.52L189.34 652.01" stroke-width="1.67"/>
<path class="g" d="M244.1 675.64L115.23 612.6" stroke-width="1.29"/>
<path class="p" d="M179.48 464.27L250.11 571.36" stroke-width="1.07"/>
<path class="p" d="M67.58 542.62L109.08 568.9" stroke-width="1.64"/>
<path class="p" d="M287.32 618.28L129.8 529.94" stroke-width="0.98"/>
<path class="p" d="M247.38 487.65L243.57 550" stroke-width="0.99"/>
<path class="p" d="M143.48 469.33L109.08 568.9" stroke-width="1.15"/>
<path class="p" d="M288.57 546.48L249.72 593.7" stroke-width="1.94"/>
<path class="p" d="M110.8 485.26L191.8 510.98" stroke-width="2.41"/>
<path class="p" d="M179.48 464.27L212.92 518.26" stroke-width="1.74"/>
<path class="p" d="M66.33 614.42L189.34 652.01" stroke-width="1.29"/>
<path class="p" d="M287.32 618.28L189.34 652.01" stroke-width="1.04"/>
<path class="g" d="M175.42 696.63L230.76 531.7" stroke-width="0.87"/>
<path class="p" d="M287.32 618.28L250.11 571.36" stroke-width="2.02"/>
<path class="p" d="M270.25 650.38L169.46 510.59" stroke-width="1.04"/>
<path class="p" d="M247.38 487.65L249.72 593.7" stroke-width="1.13"/>
<path class="p" d="M215.28 470.58L148.1 517.13" stroke-width="1.14"/>
<path class="p" d="M110.8 485.26L249.72 593.7" stroke-width="2.68"/>
<path class="p" d="M288.57 546.48L169.46 510.59" stroke-width="2.03"/>
<path class="p" d="M293.63 582.48L229 632.66" stroke-width="1.89"/>
<path class="p" d="M215.28 470.58L191.8 510.98" stroke-width="1.86"/>
<path class="p" d="M179.48 464.27L243.57 550" stroke-width="0.86"/>
<path class="p" d="M272.64 513.8L109.08 568.9" stroke-width="0.92"/>
<path class="p" d="M67.58 542.62L148.1 517.13" stroke-width="0.8"/>
<path class="p" d="M66.33 614.42L191.8 510.98" stroke-width="1.3"/>
<path class="p" d="M270.25 650.38L230.76 531.7" stroke-width="2.49"/>
<path class="p" d="M272.64 513.8L129.8 529.94" stroke-width="1.13"/>
<path class="p" d="M247.38 487.65L229 632.66" stroke-width="0.98"/>
<path class="p" d="M84.65 510.52L129.8 529.94" stroke-width="1.67"/>
<path class="p" d="M244.1 675.64L243.57 550" stroke-width="0.82"/>
<path class="g" d="M211.42 691.57L250.11 571.36" stroke-width="0.5"/>
<path class="p" d="M84.65 510.52L249.72 593.7" stroke-width="0.95"/>
<path class="p" d="M288.57 546.48L191.8 510.98" stroke-width="1.76"/>
<path class="p" d="M270.25 650.38L109.08 568.9" stroke-width="2.59"/>
<path class="p" d="M143.48 469.33L169.46 510.59" stroke-width="2.29"/>
<path class="p" d="M288.57 546.48L243.57 550" stroke-width="1.38"/>
<path class="p" d="M110.8 485.26L210.7 645.47" stroke-width="1.15"/>
<path class="p" d="M287.32 618.28L212.92 518.26" stroke-width="1.17"/>
<path class="p" d="M66.33 614.42L243.57 550" stroke-width="2.33"/>
<path class="p" d="M66.33 614.42L145.88 644.34" stroke-width="2.51"/>
<path class="p" d="M288.57 546.48L115.23 612.6" stroke-width="1.11"/>
<path class="p" d="M270.25 650.38L108.69 591.24" stroke-width="2.61"/>
<path class="p" d="M84.65 510.52L116.36 547.78" stroke-width="1.41"/>
<path class="p" d="M287.32 618.28L108.69 591.24" stroke-width="2.1"/>
<path class="p" d="M287.32 618.28L115.23 612.6" stroke-width="1.37"/>
<path class="p" d="M293.63 582.48L169.46 510.59" stroke-width="2.42"/>
<path class="g" d="M244.1 675.64L109.08 568.9" stroke-width="0.96"/>
<path class="p" d="M66.33 614.42L116.36 547.78" stroke-width="1.81"/>
<path class="p" d="M244.1 675.64L108.69 591.24" stroke-width="2.47"/>
<path class="p" d="M67.58 542.62L169.46 510.59" stroke-width="1.08"/>
<path class="p" d="M293.63 582.48L242.44 614.82" stroke-width="2.11"/>
<path class="p" d="M215.28 470.58L108.69 591.24" stroke-width="2.39"/>
<path class="g" d="M244.1 675.64L212.92 518.26" stroke-width="0.56"/>
<path class="p" d="M67.58 542.62L128.04 630.9" stroke-width="1.19"/>
<path class="p" d="M67.58 542.62L145.88 644.34" stroke-width="2.1"/>
<path class="p" d="M215.28 470.58L210.7 645.47" stroke-width="2.5"/>
<path class="g" d="M270.25 650.38L243.57 550" stroke-width="0.57"/>
<path class="p" d="M110.8 485.26L115.23 612.6" stroke-width="2.67"/>
<path class="g" d="M179.48 464.27L210.7 645.47" stroke-width="0.97"/>
<path class="p" d="M61.27 578.42L243.57 550" stroke-width="1.3"/>
<path class="p" d="M110.8 485.26L169.46 510.59" stroke-width="1.92"/>
<path class="p" d="M66.33 614.42L229 632.66" stroke-width="2.54"/>
<path class="p" d="M110.8 485.26L128.04 630.9" stroke-width="1.7"/>
<path class="p" d="M247.38 487.65L250.11 571.36" stroke-width="0.93"/>
<path class="p" d="M84.65 510.52L250.11 571.36" stroke-width="0.83"/>
<path class="p" d="M293.63 582.48L129.8 529.94" stroke-width="1.14"/>
<path class="p" d="M244.1 675.64L128.04 630.9" stroke-width="1.03"/>
<path class="p" d="M61.27 578.42L230.76 531.7" stroke-width="1.9"/>
<path class="p" d="M175.42 696.63L129.8 529.94" stroke-width="2.09"/>
<path class="g" d="M139.62 690.32L243.57 550" stroke-width="0.6"/>
<path class="g" d="M244.1 675.64L148.1 517.13" stroke-width="0.77"/>
<path class="p" d="M247.38 487.65L212.92 518.26" stroke-width="1.82"/>
<path class="p" d="M293.63 582.48L115.23 612.6" stroke-width="2.08"/>
<path class="g" d="M179.48 464.27L145.88 644.34" stroke-width="0.83"/>
<path class="p" d="M143.48 469.33L210.7 645.47" stroke-width="2.4"/>
<path class="p" d="M293.63 582.48L189.34 652.01" stroke-width="1.37"/>
<path class="p" d="M244.1 675.64L191.8 510.98" stroke-width="0.95"/>
<path class="g" d="M175.42 696.63L128.04 630.9" stroke-width="0.96"/>
<path class="p" d="M288.57 546.48L108.69 591.24" stroke-width="0.85"/>
<path class="p" d="M215.28 470.58L189.34 652.01" stroke-width="1.71"/>
<path class="p" d="M143.48 469.33L230.76 531.7" stroke-width="1.33"/>
<path class="p" d="M143.48 469.33L145.88 644.34" stroke-width="0.83"/>
<path class="g" d="M244.1 675.64L210.7 645.47" stroke-width="1.21"/>
<path class="p" d="M84.65 510.52L242.44 614.82" stroke-width="1.86"/>
<path class="p" d="M67.58 542.62L115.23 612.6" stroke-width="1.82"/>
<path class="p" d="M84.65 510.52L229 632.66" stroke-width="2.48"/>
<path class="g" d="M270.25 650.38L249.72 593.7" stroke-width="0.81"/>
<path class="p" d="M215.28 470.58L116.36 547.78" stroke-width="1.17"/>
<path class="p" d="M287.32 618.28L210.7 645.47" stroke-width="0.84"/>
<path class="p" d="M288.57 546.48L189.34 652.01" stroke-width="1.48"/>
<path class="p" d="M287.32 618.28L229 632.66" stroke-width="2.58"/>
<path class="g" d="M211.42 691.57L243.57 550" stroke-width="0.92"/>
<path class="p" d="M179.48 464.27L191.8 510.98" stroke-width="2.31"/>
<path class="p" d="M293.63 582.48L148.1 517.13" stroke-width="2.54"/>
<path class="p" d="M84.65 510.52L169.46 510.59" stroke-width="1.84"/>
<path class="p" d="M272.64 513.8L108.69 591.24" stroke-width="1.46"/>
<path class="p" d="M272.64 513.8L243.57 550" stroke-width="0.81"/>
<path class="p" d="M66.33 614.42L242.44 614.82" stroke-width="1.39"/>
<path class="p" d="M215.28 470.58L243.57 550" stroke-width="1.06"/>
<path class="g" d="M175.42 696.63L212.92 518.26" stroke-width="0.54"/>
<path class="p" d="M61.27 578.42L229 632.66" stroke-width="1.45"/>
<path class="p" d="M287.32 618.28L191.8 510.98" stroke-width="0.93"/>
<path class="p" d="M293.63 582.48L128.04 630.9" stroke-width="1.29"/>
<path class="p" d="M270.25 650.38L250.11 571.36" stroke-width="1.7"/>
<path class="p" d="M143.48 469.33L115.23 612.6" stroke-width="2.14"/>
<path class="p" d="M179.48 464.27L115.23 612.6" stroke-width="2.08"/>
<path class="g" d="M270.25 650.38L210.7 645.47" stroke-width="0.78"/>
<path class="p" d="M272.64 513.8L191.8 510.98" stroke-width="1.23"/>
<path class="p" d="M270.25 650.38L145.88 644.34" stroke-width="0.89"/>
<path class="p" d="M110.8 485.26L212.92 518.26" stroke-width="0.94"/>
<path class="p" d="M293.63 582.48L243.57 550" stroke-width="1.26"/>
<path class="p" d="M215.28 470.58L109.08 568.9" stroke-width="0.82"/>
<path class="p" d="M247.38 487.65L230.76 531.7" stroke-width="2.57"/>
<path class="p" d="M179.48 464.27L148.1 517.13" stroke-width="1.81"/>
<path class="p" d="M247.38 487.65L145.88 644.34" stroke-width="1.93"/>
<path class="p" d="M272.64 513.8L189.34 652.01" stroke-width="1.25"/>
<path class="p" d="M270.25 650.38L229 632.66" stroke-width="1.45"/>
<path class="p" d="M179.48 464.27L108.69 591.24" stroke-width="0.99"/>
<path class="p" d="M67.58 542.62L250.11 571.36" stroke-width="1.37"/>
<path class="p" d="M66.33 614.42L129.8 529.94" stroke-width="0.83"/>
<path class="p" d="M110.8 485.26L148.1 517.13" stroke-width="1.23"/>
<path class="p" d="M61.27 578.42L109.08 568.9" stroke-width="1.2"/>
<path class="p" d="M67.58 542.62L129.8 529.94" stroke-width="1.77"/>
<path class="p" d="M272.64 513.8L210.7 645.47" stroke-width="1.33"/>
<path class="p" d="M247.38 487.65L129.8 529.94" stroke-width="2.29"/>
<path class="g" d="M211.42 691.57L191.8 510.98" stroke-width="0.66"/>
<path class="p" d="M143.48 469.33L212.92 518.26" stroke-width="1.55"/>
<path class="p" d="M287.32 618.28L116.36 547.78" stroke-width="1.12"/>
<path class="g" d="M211.42 691.57L108.69 591.24" stroke-width="0.85"/>
<path class="p" d="M247.38 487.65L210.7 645.47" stroke-width="2.05"/>
<path class="p" d="M272.64 513.8L212.92 518.26" stroke-width="2.19"/>
<path class="p" d="M179.48 464.27L167 651.62" stroke-width="1.45"/>
<path class="g" d="M211.42 691.57L148.1 517.13" stroke-width="1.01"/>
<path class="p" d="M288.57 546.48L242.44 614.82" stroke-width="1.24"/>
<path class="p" d="M61.27 578.42L212.92 518.26" stroke-width="0.92"/>
<path class="p" d="M110.8 485.26L242.44 614.82" stroke-width="1.56"/>
<path class="p" d="M84.65 510.52L212.92 518.26" stroke-width="2.03"/>
<path class="p" d="M211.42 691.57L210.7 645.47" stroke-width="1.53"/>
<path class="p" d="M66.33 614.42L109.08 568.9" stroke-width="1.37"/>
<path class="p" d="M288.57 546.48L116.36 547.78" stroke-width="1.77"/>
<path class="p" d="M287.32 618.28L145.88 644.34" stroke-width="2.43"/>
<path class="p" d="M61.27 578.42L210.7 645.47" stroke-width="2.62"/>
<path class="p" d="M244.1 675.64L230.76 531.7" stroke-width="1.95"/>
<path class="p" d="M66.33 614.42L230.76 531.7" stroke-width="0.89"/>
<path class="g" d="M179.48 464.27L109.08 568.9" stroke-width="0.73"/>
<path class="p" d="M84.65 510.52L230.76 531.7" stroke-width="0.91"/>
<path class="p" d="M66.33 614.42L115.23 612.6" stroke-width="0.8"/>
<path class="p" d="M247.38 487.65L115.23 612.6" stroke-width="0.84"/>
<path class="p" d="M287.32 618.28L167 651.62" stroke-width="1.79"/>
<path class="g" d="M272.64 513.8L128.04 630.9" stroke-width="0.94"/>
<path class="g" d="M272.64 513.8L242.44 614.82" stroke-width="0.86"/>
<path class="g" d="M175.42 696.63L249.72 593.7" stroke-width="0.61"/>
<path class="p" d="M215.28 470.58L249.72 593.7" stroke-width="0.94"/>
<path class="p" d="M61.27 578.42L129.8 529.94" stroke-width="2.36"/>
<path class="g" d="M247.38 487.65L108.69 591.24" stroke-width="1.25"/>
<path class="p" d="M270.25 650.38L167 651.62" stroke-width="2.01"/>
<path class="p" d="M110.8 485.26L230.76 531.7" stroke-width="2.08"/>
<path class="p" d="M143.48 469.33L229 632.66" stroke-width="0.87"/>
<path class="p" d="M67.58 542.62L242.44 614.82" stroke-width="0.83"/>
<path class="p" d="M287.32 618.28L249.72 593.7" stroke-width="1.05"/>
<path class="p" d="M293.63 582.48L210.7 645.47" stroke-width="1.03"/>
<path class="p" d="M288.57 546.48L167 651.62" stroke-width="1.01"/>
<path class="p" d="M61.27 578.42L189.34 652.01" stroke-width="2.16"/>
<path class="g" d="M175.42 696.63L191.8 510.98" stroke-width="0.99"/>
<path class="p" d="M110.8 485.26L116.36 547.78" stroke-width="0.92"/>
<path class="p" d="M293.63 582.48L145.88 644.34" stroke-width="2.12"/>
<path class="p" d="M61.27 578.42L169.46 510.59" stroke-width="2.04"/>
<path class="p" d="M84.65 510.52L115.23 612.6" stroke-width="0.8"/>
<path class="p" d="M61.27 578.42L116.36 547.78" stroke-width="0.83"/>
<path class="g" d="M244.1 675.64L169.46 510.59" stroke-width="0.69"/>
<path class="p" d="M61.27 578.42L148.1 517.13" stroke-width="2.15"/>
<path class="g" d="M175.42 696.63L243.57 550" stroke-width="0.56"/>
<path class="g" d="M247.38 487.65L191.8 510.98" stroke-width="0.51"/>
<path class="p" d="M66.33 614.42L212.92 518.26" stroke-width="1.74"/>
<path class="p" d="M143.48 469.33L243.57 550" stroke-width="1.08"/>
<path class="p" d="M211.42 691.57L229 632.66" stroke-width="2.61"/>
<path class="p" d="M61.27 578.42L250.11 571.36" stroke-width="1.86"/>
<path class="p" d="M270.25 650.38L116.36 547.78" stroke-width="1.41"/>
<path class="p" d="M143.48 469.33L167 651.62" stroke-width="1.35"/>
<path class="p" d="M179.48 464.27L249.72 593.7" stroke-width="2.6"/>
<path class="p" d="M293.63 582.48L108.69 591.24" stroke-width="2.47"/>
<path class="p" d="M61.27 578.42L115.23 612.6" stroke-width="1.66"/>
<path class="p" d="M66.33 614.42L250.11 571.36" stroke-width="1.46"/>
<path class="p" d="M244.1 675.64L229 632.66" stroke-width="1.57"/>
<path class="p" d="M143.48 469.33L129.8 529.94" stroke-width="1.49"/>
<path class="p" d="M211.42 691.57L109.08 568.9" stroke-width="1.03"/>
<path class="p" d="M67.58 542.62L210.7 645.47" stroke-width="1.58"/>
<path class="p" d="M66.33 614.42L128.04 630.9" stroke-width="1.05"/>
<path class="p" d="M215.28 470.58L230.76 531.7" stroke-width="0.8"/>
<path class="p" d="M67.58 542.62L243.57 550" stroke-width="2.68"/>
<path class="p" d="M215.28 470.58L169.46 510.59" stroke-width="1.29"/>
<path class="p" d="M67.58 542.62L249.72 593.7" stroke-width="2.64"/>
<path class="g" d="M247.38 487.65L128.04 630.9" stroke-width="0.94"/>
<path class="g" d="M211.42 691.57L116.36 547.78" stroke-width="0.9"/>
<path class="g" d="M288.57 546.48L210.7 645.47" stroke-width="1.27"/>
<path class="p" d="M244.1 675.64L116.36 547.78" stroke-width="2.22"/>
<path class="g" d="M179.48 464.27L242.44 614.82" stroke-width="0.57"/>
<path class="p" d="M247.38 487.65L116.36 547.78" stroke-width="1.39"/>
<path class="p" d="M293.63 582.48L109.08 568.9" stroke-width="2.07"/>
<path class="p" d="M61.27 578.42L145.88 644.34" stroke-width="1.41"/>
<path class="g" d="M215.28 470.58L167 651.62" stroke-width="1.13"/>
<path class="g" d="M139.62 690.32L250.11 571.36" stroke-width="0.93"/>
<path class="g" d="M139.62 690.32L249.72 593.7" stroke-width="0.58"/>
<path class="g" d="M139.62 690.32L242.44 614.82" stroke-width="0.55"/>
<path class="g" d="M139.62 690.32L229 632.66" stroke-width="0.76"/>
<path class="g" d="M139.62 690.32L210.7 645.47" stroke-width="0.92"/>
<path class="g" d="M139.62 690.32L167 651.62" stroke-width="1.24"/>
<path class="g" d="M139.62 690.32L145.88 644.34" stroke-width="0.55"/>
<path class="g" d="M139.62 690.32L128.04 630.9" stroke-width="0.81"/>
<path class="g" d="M139.62 690.32L108.69 591.24" stroke-width="0.61"/>
<path class="g" d="M139.62 690.32L116.36 547.78" stroke-width="0.54"/>
<path class="g" d="M139.62 690.32L129.8 529.94" stroke-width="0.61"/>
<path class="g" d="M139.62 690.32L148.1 517.13" stroke-width="0.51"/>
<path class="g" d="M139.62 690.32L169.46 510.59" stroke-width="0.91"/>
<path class="g" d="M109.3 676L191.8 510.98" stroke-width="0.93"/>
<path class="g" d="M109.3 676L212.92 518.26" stroke-width="0.58"/>
<path class="g" d="M109.3 676L230.76 531.7" stroke-width="1.21"/>
<path class="g" d="M109.3 676L243.57 550" stroke-width="0.9"/>
<path class="g" d="M109.3 676L229 632.66" stroke-width="0.64"/>
<path class="g" d="M109.3 676L210.7 645.47" stroke-width="1.14"/>
<path class="g" d="M109.3 676L145.88 644.34" stroke-width="0.72"/>
<path class="g" d="M109.3 676L128.04 630.9" stroke-width="1.25"/>
<path class="g" d="M109.3 676L115.23 612.6" stroke-width="0.63"/>
<path class="g" d="M109.3 676L109.08 568.9" stroke-width="0.58"/>
<path class="g" d="M109.3 676L116.36 547.78" stroke-width="1.09"/>
<path class="g" d="M109.3 676L129.8 529.94" stroke-width="0.56"/>
<path class="g" d="M109.3 676L148.1 517.13" stroke-width="1.12"/>
<path class="g" d="M82.26 647.1L191.8 510.98" stroke-width="0.83"/>
<path class="g" d="M82.26 647.1L230.76 531.7" stroke-width="0.61"/>
<path class="g" d="M82.26 647.1L243.57 550" stroke-width="0.81"/>
<path class="g" d="M82.26 647.1L249.72 593.7" stroke-width="0.85"/>
<path class="g" d="M82.26 647.1L242.44 614.82" stroke-width="0.71"/>
<path class="g" d="M82.26 647.1L229 632.66" stroke-width="0.92"/>
<path class="g" d="M82.26 647.1L210.7 645.47" stroke-width="0.64"/>
<path class="g" d="M82.26 647.1L167 651.62" stroke-width="0.5"/>
<path class="g" d="M82.26 647.1L128.04 630.9" stroke-width="0.85"/>
<path class="g" d="M82.26 647.1L109.08 568.9" stroke-width="0.94"/>
<path class="g" d="M82.26 647.1L116.36 547.78" stroke-width="0.74"/>
<path class="g" d="M82.26 647.1L129.8 529.94" stroke-width="0.8"/>
<path class="g" d="M82.26 647.1L148.1 517.13" stroke-width="1.11"/>
<path class="g" d="M82.26 647.1L169.46 510.59" stroke-width="0.8"/>
<path class="g" d="M66.33 614.42L249.72 593.7" stroke-width="0.51"/>
<path class="g" d="M66.33 614.42L167 651.62" stroke-width="0.61"/>
<path class="g" d="M66.33 614.42L148.1 517.13" stroke-width="0.65"/>
<path class="g" d="M67.58 542.62L229 632.66" stroke-width="0.69"/>
<path class="g" d="M84.65 510.52L243.57 550" stroke-width="0.99"/>
<path class="g" d="M110.8 485.26L189.34 652.01" stroke-width="1.05"/>
<path class="g" d="M143.48 469.33L250.11 571.36" stroke-width="0.91"/>
<path class="g" d="M143.48 469.33L249.72 593.7" stroke-width="0.73"/>
</g>
<circle cx="179.48" cy="464.27" r="9.8" fill="#f3a735"/>
<circle cx="215.28" cy="470.58" r="9.8" fill="#f3a735"/>
<circle cx="247.38" cy="487.65" r="9.8" fill="#f3a735"/>
<circle cx="272.64" cy="513.8" r="9.8" fill="#f3a735"/>
<circle cx="288.57" cy="546.48" r="9.8" fill="#f3a735"/>
<circle cx="293.63" cy="582.48" r="9.8" fill="#f3a735"/>
<circle cx="287.32" cy="618.28" r="9.8" fill="#f3a735"/>
<circle cx="270.25" cy="650.38" r="9.8" fill="#f3a735"/>
<circle cx="244.1" cy="675.64" r="9.8" fill="#f3a735"/>
<circle cx="211.42" cy="691.57" r="9.8" fill="#f3a735"/>
<circle cx="175.42" cy="696.63" r="9.8" fill="#f3a735"/>
<circle cx="139.62" cy="690.32" r="9.8" fill="#f3a735"/>
<circle cx="109.3" cy="676" r="9.8" fill="#f3a735"/>
<circle cx="82.26" cy="647.1" r="9.8" fill="#f3a735"/>
<circle cx="66.33" cy="614.42" r="9.8" fill="#f3a735"/>
<circle cx="61.27" cy="578.42" r="9.8" fill="#f3a735"/>
<circle cx="67.58" cy="542.62" r="9.8" fill="#f3a735"/>
<circle cx="84.65" cy="510.52" r="9.8" fill="#f3a735"/>
<circle cx="110.8" cy="485.26" r="9.8" fill="#f3a735"/>
<circle cx="143.48" cy="469.33" r="9.8" fill="#f3a735"/>
<circle cx="191.8" cy="510.98" r="6.8" fill="#2e75b6"/>
<circle cx="212.92" cy="518.26" r="6.8" fill="#2e75b6"/>
<circle cx="230.76" cy="531.7" r="6.8" fill="#2e75b6"/>
<circle cx="243.57" cy="550" r="6.8" fill="#2e75b6"/>
<circle cx="250.11" cy="571.36" r="6.8" fill="#2e75b6"/>
<circle cx="249.72" cy="593.7" r="6.8" fill="#2e75b6"/>
<circle cx="242.44" cy="614.82" r="6.8" fill="#2e75b6"/>
<circle cx="229" cy="632.66" r="6.8" fill="#2e75b6"/>
<circle cx="210.7" cy="645.47" r="6.8" fill="#2e75b6"/>
<circle cx="189.34" cy="652.01" r="6.8" fill="#2e75b6"/>
<circle cx="167" cy="651.62" r="6.8" fill="#2e75b6"/>
<circle cx="145.88" cy="644.34" r="6.8" fill="#2e75b6"/>
<circle cx="128.04" cy="630.9" r="6.8" fill="#2e75b6"/>
<circle cx="115.23" cy="612.6" r="6.8" fill="#2e75b6"/>
<circle cx="108.69" cy="591.24" r="6.8" fill="#2e75b6"/>
<circle cx="109.08" cy="568.9" r="6.8" fill="#2e75b6"/>
<circle cx="116.36" cy="547.78" r="6.8" fill="#2e75b6"/>
<circle cx="129.8" cy="529.94" r="6.8" fill="#2e75b6"/>
<circle cx="148.1" cy="517.13" r="6.8" fill="#2e75b6"/>
<circle cx="169.46" cy="510.59" r="6.8" fill="#2e75b6"/>
<g class="nl" font-family='"Liberation Sans", Arial, Helvetica, sans-serif' text-anchor="middle" fill="#000">
<text x="179.48" y="467.47" font-size="8.4">Listeria</text>
<text x="215.28" y="473.78" font-size="8.4">Acidibacillus</text>
<text x="247.38" y="490.85" font-size="8.4">Candidatus_Nitrosopelagicus</text>
<text x="272.64" y="517" font-size="8.4">Nitrospina</text>
<text x="288.57" y="549.68" font-size="8.4">Sulfolobus</text>
<text x="293.63" y="585.68" font-size="8.4">Rhodomicrobium</text>
<text x="287.32" y="621.48" font-size="8.4">Ichnovirus</text>
<text x="270.25" y="653.58" font-size="8.4">Campylobacter</text>
<text x="244.1" y="678.84" font-size="8.4">Lawsonia</text>
<text x="211.42" y="694.77" font-size="8.4">Mannheimia</text>
<text x="175.42" y="699.83" font-size="8.4">Zooshikella</text>
<text x="139.62" y="693.52" font-size="8.4">Wolbachia</text>
<text x="109.3" y="679.2" font-size="8.4">Leifsonia</text>
<text x="82.26" y="650.3" font-size="8.4">Dysgonomonas</text>
<text x="66.33" y="617.62" font-size="8.4">Saccharibacter</text>
<text x="61.27" y="581.62" font-size="8.4">Haliangium</text>
<text x="67.58" y="545.82" font-size="8.4">Methanosarcina</text>
<text x="84.65" y="513.72" font-size="8.4">Coprobacillus</text>
<text x="110.8" y="488.46" font-size="8.4">Sanguibacteroides</text>
<text x="143.48" y="472.53" font-size="8.4">Microvirga</text>
<text x="191.8" y="513.88" font-size="7.6">ADAR</text>
<text x="212.92" y="521.16" font-size="7.6">JAK1</text>
<text x="230.76" y="534.6" font-size="7.6">UBR5</text>
<text x="243.57" y="552.9" font-size="7.6">ATG9A</text>
<text x="250.11" y="574.26" font-size="7.6">CREBBP</text>
<text x="249.72" y="596.6" font-size="7.6">TMEM127</text>
<text x="242.44" y="617.72" font-size="7.6">BECN1</text>
<text x="229" y="635.56" font-size="7.6">SUSD6</text>
<text x="210.7" y="648.37" font-size="7.6">VPS29</text>
<text x="189.34" y="654.91" font-size="7.6">TAP1</text>
<text x="167" y="654.52" font-size="7.6">HIRA</text>
<text x="145.88" y="647.24" font-size="7.6">SARNP</text>
<text x="128.04" y="633.8" font-size="7.6">RIC1</text>
<text x="115.23" y="615.5" font-size="7.6">WDR83</text>
<text x="108.69" y="594.14" font-size="7.6">COX6C</text>
<text x="109.08" y="571.8" font-size="7.6">WWP2</text>
<text x="116.36" y="550.68" font-size="7.6">IPPK</text>
<text x="129.8" y="532.84" font-size="7.6">ATXN7L3</text>
<text x="148.1" y="520.03" font-size="7.6">EMC4</text>
<text x="169.46" y="513.49" font-size="7.6">TAB2</text>
</g>
<g fill="none">
<path class="g" d="M582.71 512.52L538.55 539.95" stroke-width="0.69"/>
<path class="g" d="M582.71 512.52L490.29 551.53" stroke-width="0.69"/>
<path class="g" d="M623.18 544.79L584.4 558.94" stroke-width="1.12"/>
<path class="g" d="M623.18 544.79L501.52 694.19" stroke-width="0.41"/>
<path class="g" d="M623.18 544.79L454.17 638.75" stroke-width="1.52"/>
<path class="g" d="M623.18 544.79L452.2 613.7" stroke-width="0.86"/>
<path class="g" d="M645.63 591.42L593.31 672.15" stroke-width="0.75"/>
<path class="g" d="M645.63 591.42L452.2 613.7" stroke-width="0.55"/>
<path class="g" d="M645.63 643.18L538.55 539.95" stroke-width="0.41"/>
<path class="g" d="M645.63 643.18L562.98 545.81" stroke-width="0.89"/>
<path class="g" d="M645.63 643.18L551 698.08" stroke-width="1.05"/>
<path class="g" d="M645.63 643.18L525.95 700.05" stroke-width="1"/>
<path class="g" d="M623.18 689.81L610.33 601.25" stroke-width="0.66"/>
<path class="g" d="M582.71 722.08L551 698.08" stroke-width="0.56"/>
<path class="g" d="M532.25 733.6L584.4 558.94" stroke-width="1.1"/>
<path class="g" d="M532.25 733.6L612.3 626.3" stroke-width="1.12"/>
<path class="g" d="M532.25 733.6L501.52 694.19" stroke-width="1.45"/>
<path class="g" d="M532.25 733.6L458.06 589.27" stroke-width="1.12"/>
<path class="g" d="M481.79 722.08L525.95 700.05" stroke-width="1.59"/>
<path class="g" d="M441.32 689.81L562.98 545.81" stroke-width="0.8"/>
<path class="g" d="M441.32 689.81L612.3 626.3" stroke-width="0.43"/>
<path class="g" d="M418.87 643.18L538.55 539.95" stroke-width="1.19"/>
<path class="g" d="M418.87 643.18L574.21 688.47" stroke-width="0.74"/>
<path class="g" d="M418.87 643.18L463.78 661.96" stroke-width="1.09"/>
<path class="g" d="M418.87 643.18L490.29 551.53" stroke-width="1.26"/>
<path class="g" d="M441.32 544.79L584.4 558.94" stroke-width="1.22"/>
<path class="g" d="M441.32 544.79L593.31 672.15" stroke-width="1.03"/>
<path class="g" d="M441.32 544.79L574.21 688.47" stroke-width="0.47"/>
<path class="g" d="M441.32 544.79L551 698.08" stroke-width="0.63"/>
<path class="g" d="M441.32 544.79L480.1 681.06" stroke-width="0.83"/>
<path class="g" d="M481.79 512.52L551 698.08" stroke-width="0.44"/>
<path class="g" d="M481.79 512.52L458.06 589.27" stroke-width="1.36"/>
<path class="g" d="M532.1 580.5L452.2 613.7" stroke-width="1.21"/>
<path class="g" d="M571 642.9L584.4 558.94" stroke-width="1.34"/>
<path class="g" d="M571 642.9L593.31 672.15" stroke-width="1.12"/>
<path class="g" d="M534.8 665.8L562.98 545.81" stroke-width="0.59"/>
<path class="g" d="M534.8 665.8L606.44 650.73" stroke-width="1.79"/>
<path class="g" d="M534.8 665.8L593.31 672.15" stroke-width="1.72"/>
<path class="g" d="M534.8 665.8L452.2 613.7" stroke-width="1.08"/>
<path class="g" d="M534.8 665.8L458.06 589.27" stroke-width="1.96"/>
<path class="g" d="M534.8 665.8L471.19 567.85" stroke-width="1.77"/>
<path class="g" d="M496.8 645.7L562.98 545.81" stroke-width="1.1"/>
<path class="g" d="M496.8 645.7L593.31 672.15" stroke-width="1.13"/>
<path class="g" d="M496.8 645.7L490.29 551.53" stroke-width="1.46"/>
<path class="g" d="M495.4 602.7L513.5 541.92" stroke-width="0.72"/>
<path class="p" d="M532.1 580.5L574.21 688.47" stroke-width="0.84"/>
<path class="p" d="M623.18 544.79L551 698.08" stroke-width="1.67"/>
<path class="p" d="M582.71 722.08L538.55 539.95" stroke-width="0.79"/>
<path class="g" d="M582.71 722.08L501.52 694.19" stroke-width="0.84"/>
<path class="p" d="M645.63 591.42L454.17 638.75" stroke-width="1.36"/>
<path class="g" d="M582.71 722.08L606.44 650.73" stroke-width="1.07"/>
<path class="p" d="M496.8 645.7L501.52 694.19" stroke-width="1.6"/>
<path class="p" d="M623.18 689.81L584.4 558.94" stroke-width="0.85"/>
<path class="p" d="M582.71 722.08L525.95 700.05" stroke-width="0.76"/>
<path class="p" d="M623.18 689.81L612.3 626.3" stroke-width="0.91"/>
<path class="p" d="M645.63 643.18L612.3 626.3" stroke-width="0.55"/>
<path class="p" d="M496.8 645.7L606.44 650.73" stroke-width="1.59"/>
<path class="p" d="M569 600.5L610.33 601.25" stroke-width="2.52"/>
<path class="p" d="M496.8 645.7L458.06 589.27" stroke-width="0.52"/>
<path class="p" d="M532.25 501L610.33 601.25" stroke-width="1.1"/>
<path class="p" d="M569 600.5L584.4 558.94" stroke-width="0.69"/>
<path class="p" d="M582.71 512.52L452.2 613.7" stroke-width="1.33"/>
<path class="p" d="M569 600.5L480.1 681.06" stroke-width="1.52"/>
<path class="g" d="M645.63 643.18L471.19 567.85" stroke-width="1.52"/>
<path class="p" d="M532.1 580.5L600.72 578.04" stroke-width="1.91"/>
<path class="p" d="M569 600.5L501.52 694.19" stroke-width="2.11"/>
<path class="g" d="M532.25 733.6L600.72 578.04" stroke-width="1.01"/>
<path class="p" d="M495.4 602.7L574.21 688.47" stroke-width="1.55"/>
<path class="p" d="M645.63 591.42L574.21 688.47" stroke-width="1.18"/>
<path class="g" d="M582.71 512.52L480.1 681.06" stroke-width="1.7"/>
<path class="p" d="M418.87 591.42L525.95 700.05" stroke-width="0.73"/>
<path class="p" d="M582.71 512.52L562.98 545.81" stroke-width="1.39"/>
<path class="g" d="M645.63 643.18L584.4 558.94" stroke-width="0.75"/>
<path class="p" d="M532.25 501L513.5 541.92" stroke-width="0.53"/>
<path class="p" d="M532.1 580.5L606.44 650.73" stroke-width="0.52"/>
<path class="p" d="M571 642.9L551 698.08" stroke-width="1.63"/>
<path class="p" d="M495.4 602.7L538.55 539.95" stroke-width="2.69"/>
<path class="p" d="M532.25 501L458.06 589.27" stroke-width="1.45"/>
<path class="g" d="M532.25 501L538.55 539.95" stroke-width="0.77"/>
<path class="g" d="M645.63 643.18L452.2 613.7" stroke-width="1.24"/>
<path class="p" d="M582.71 722.08L562.98 545.81" stroke-width="1.22"/>
<path class="p" d="M532.25 501L593.31 672.15" stroke-width="0.73"/>
<path class="p" d="M418.87 591.42L513.5 541.92" stroke-width="1.6"/>
<path class="p" d="M645.63 591.42L525.95 700.05" stroke-width="1.22"/>
<path class="p" d="M645.63 591.42L538.55 539.95" stroke-width="0.81"/>
<path class="p" d="M532.1 580.5L562.98 545.81" stroke-width="0.76"/>
<path class="g" d="M623.18 544.79L610.33 601.25" stroke-width="0.48"/>
<path class="p" d="M532.1 580.5L593.31 672.15" stroke-width="1.99"/>
<path class="p" d="M532.1 580.5L525.95 700.05" stroke-width="1.53"/>
<path class="p" d="M645.63 591.42L606.44 650.73" stroke-width="0.45"/>
<path class="p" d="M571 642.9L463.78 661.96" stroke-width="1.56"/>
<path class="p" d="M496.8 645.7L513.5 541.92" stroke-width="1.85"/>
<path class="p" d="M645.63 591.42L458.06 589.27" stroke-width="0.69"/>
<path class="p" d="M441.32 689.81L606.44 650.73" stroke-width="1.44"/>
<path class="p" d="M569 600.5L454.17 638.75" stroke-width="0.56"/>
<path class="p" d="M571 642.9L452.2 613.7" stroke-width="0.5"/>
<path class="p" d="M645.63 643.18L610.33 601.25" stroke-width="0.97"/>
<path class="p" d="M571 642.9L606.44 650.73" stroke-width="2.47"/>
<path class="g" d="M582.71 512.52L471.19 567.85" stroke-width="1.86"/>
<path class="g" d="M623.18 544.79L562.98 545.81" stroke-width="1.45"/>
<path class="p" d="M496.8 645.7L612.3 626.3" stroke-width="2.61"/>
<path class="p" d="M532.1 580.5L538.55 539.95" stroke-width="0.9"/>
<path class="p" d="M496.8 645.7L610.33 601.25" stroke-width="2.36"/>
<path class="p" d="M532.1 580.5L458.06 589.27" stroke-width="1.91"/>
<path class="p" d="M623.18 689.81L463.78 661.96" stroke-width="0.43"/>
<path class="p" d="M534.8 665.8L480.1 681.06" stroke-width="1.58"/>
<path class="p" d="M569 600.5L593.31 672.15" stroke-width="1.98"/>
<path class="p" d="M496.8 645.7L584.4 558.94" stroke-width="1.02"/>
<path class="p" d="M623.18 544.79L480.1 681.06" stroke-width="0.41"/>
<path class="p" d="M495.4 602.7L610.33 601.25" stroke-width="0.72"/>
<path class="p" d="M532.1 580.5L463.78 661.96" stroke-width="2.64"/>
<path class="p" d="M569 600.5L574.21 688.47" stroke-width="1.4"/>
<path class="p" d="M623.18 689.81L574.21 688.47" stroke-width="0.83"/>
<path class="p" d="M645.63 643.18L490.29 551.53" stroke-width="0.41"/>
<path class="p" d="M569 600.5L538.55 539.95" stroke-width="1.55"/>
<path class="p" d="M645.63 591.42L513.5 541.92" stroke-width="1.58"/>
<path class="p" d="M532.1 580.5L513.5 541.92" stroke-width="0.57"/>
<path class="p" d="M441.32 689.81L458.06 589.27" stroke-width="0.4"/>
<path class="g" d="M645.63 591.42L490.29 551.53" stroke-width="1.14"/>
<path class="p" d="M532.1 580.5L551 698.08" stroke-width="1.6"/>
<path class="p" d="M571 642.9L458.06 589.27" stroke-width="2.41"/>
<path class="p" d="M569 600.5L463.78 661.96" stroke-width="1.82"/>
<path class="p" d="M532.1 580.5L610.33 601.25" stroke-width="2.17"/>
<path class="p" d="M569 600.5L452.2 613.7" stroke-width="1.4"/>
<path class="p" d="M495.4 602.7L452.2 613.7" stroke-width="1.8"/>
<path class="p" d="M418.87 591.42L562.98 545.81" stroke-width="0.59"/>
<path class="p" d="M496.8 645.7L454.17 638.75" stroke-width="1.46"/>
<path class="p" d="M569 600.5L471.19 567.85" stroke-width="0.63"/>
<path class="g" d="M532.25 501L525.95 700.05" stroke-width="1.07"/>
<path class="g" d="M645.63 591.42L562.98 545.81" stroke-width="1.44"/>
<path class="p" d="M532.1 580.5L501.52 694.19" stroke-width="1.53"/>
<path class="g" d="M532.25 501L574.21 688.47" stroke-width="0.73"/>
<path class="p" d="M534.8 665.8L454.17 638.75" stroke-width="2.68"/>
<path class="p" d="M441.32 689.81L525.95 700.05" stroke-width="1.01"/>
<path class="p" d="M582.71 722.08L454.17 638.75" stroke-width="0.49"/>
<path class="g" d="M582.71 512.52L551 698.08" stroke-width="1.73"/>
<path class="p" d="M532.1 580.5L480.1 681.06" stroke-width="0.94"/>
<path class="p" d="M532.25 501L606.44 650.73" stroke-width="0.44"/>
<path class="g" d="M532.25 501L454.17 638.75" stroke-width="1.55"/>
<path class="p" d="M495.4 602.7L471.19 567.85" stroke-width="2.56"/>
<path class="p" d="M569 600.5L490.29 551.53" stroke-width="2.12"/>
<path class="g" d="M582.71 722.08L490.29 551.53" stroke-width="0.44"/>
<path class="g" d="M532.25 501L612.3 626.3" stroke-width="0.85"/>
<path class="p" d="M571 642.9L501.52 694.19" stroke-width="1.45"/>
<path class="p" d="M496.8 645.7L480.1 681.06" stroke-width="0.81"/>
<path class="p" d="M534.8 665.8L538.55 539.95" stroke-width="2.07"/>
<path class="g" d="M582.71 722.08L463.78 661.96" stroke-width="0.56"/>
<path class="g" d="M441.32 689.81L584.4 558.94" stroke-width="0.64"/>
<path class="p" d="M481.79 722.08L562.98 545.81" stroke-width="0.5"/>
<path class="g" d="M481.79 722.08L471.19 567.85" stroke-width="0.45"/>
<path class="p" d="M571 642.9L525.95 700.05" stroke-width="0.84"/>
<path class="p" d="M569 600.5L606.44 650.73" stroke-width="0.51"/>
<path class="p" d="M495.4 602.7L562.98 545.81" stroke-width="2.8"/>
<path class="p" d="M441.32 689.81L610.33 601.25" stroke-width="0.88"/>
<path class="p" d="M571 642.9L513.5 541.92" stroke-width="0.65"/>
<path class="p" d="M532.25 501L490.29 551.53" stroke-width="1.21"/>
<path class="p" d="M571 642.9L562.98 545.81" stroke-width="1.33"/>
<path class="g" d="M645.63 591.42L463.78 661.96" stroke-width="1.5"/>
<path class="p" d="M571 642.9L574.21 688.47" stroke-width="0.82"/>
<path class="p" d="M495.4 602.7L490.29 551.53" stroke-width="0.66"/>
<path class="p" d="M534.8 665.8L584.4 558.94" stroke-width="0.5"/>
<path class="p" d="M534.8 665.8L501.52 694.19" stroke-width="1.16"/>
<path class="p" d="M495.4 602.7L606.44 650.73" stroke-width="2.6"/>
<path class="g" d="M418.87 643.18L584.4 558.94" stroke-width="0.5"/>
<path class="p" d="M495.4 602.7L480.1 681.06" stroke-width="1.09"/>
<path class="p" d="M532.1 580.5L471.19 567.85" stroke-width="2.01"/>
<path class="g" d="M623.18 689.81L606.44 650.73" stroke-width="0.41"/>
<path class="g" d="M582.71 512.52L606.44 650.73" stroke-width="1.14"/>
<path class="p" d="M534.8 665.8L551 698.08" stroke-width="0.89"/>
<path class="p" d="M532.1 580.5L490.29 551.53" stroke-width="2.27"/>
<path class="p" d="M532.25 733.6L471.19 567.85" stroke-width="0.83"/>
<path class="p" d="M532.1 580.5L454.17 638.75" stroke-width="1.9"/>
<path class="p" d="M623.18 689.81L562.98 545.81" stroke-width="1.32"/>
<path class="p" d="M418.87 591.42L606.44 650.73" stroke-width="1.01"/>
<path class="p" d="M571 642.9L610.33 601.25" stroke-width="2.28"/>
<path class="p" d="M495.4 602.7L525.95 700.05" stroke-width="2.79"/>
<path class="p" d="M418.87 591.42L600.72 578.04" stroke-width="0.72"/>
<path class="p" d="M571 642.9L490.29 551.53" stroke-width="0.85"/>
<path class="p" d="M623.18 689.81L458.06 589.27" stroke-width="0.75"/>
<path class="p" d="M481.79 722.08L501.52 694.19" stroke-width="1.22"/>
<path class="p" d="M534.8 665.8L463.78 661.96" stroke-width="2.19"/>
<path class="p" d="M495.4 602.7L600.72 578.04" stroke-width="1.5"/>
<path class="p" d="M569 600.5L551 698.08" stroke-width="1.06"/>
<path class="p" d="M569 600.5L612.3 626.3" stroke-width="1.4"/>
<path class="p" d="M495.4 602.7L612.3 626.3" stroke-width="2.72"/>
<path class="p" d="M569 600.5L458.06 589.27" stroke-width="1.99"/>
<path class="p" d="M495.4 602.7L593.31 672.15" stroke-width="1.08"/>
<path class="g" d="M623.18 544.79L513.5 541.92" stroke-width="1.31"/>
<path class="g" d="M532.25 501L584.4 558.94" stroke-width="0.57"/>
<path class="g" d="M582.71 722.08L612.3 626.3" stroke-width="1.44"/>
<path class="p" d="M496.8 645.7L471.19 567.85" stroke-width="2.14"/>
<path class="p" d="M481.79 722.08L600.72 578.04" stroke-width="0.68"/>
<path class="p" d="M569 600.5L525.95 700.05" stroke-width="0.51"/>
<path class="p" d="M496.8 645.7L600.72 578.04" stroke-width="1.47"/>
<path class="p" d="M645.63 591.42L480.1 681.06" stroke-width="1.5"/>
<path class="p" d="M481.79 722.08L458.06 589.27" stroke-width="1.06"/>
<path class="p" d="M571 642.9L471.19 567.85" stroke-width="2.53"/>
<path class="p" d="M496.8 645.7L574.21 688.47" stroke-width="2.52"/>
<path class="p" d="M418.87 643.18L562.98 545.81" stroke-width="1.1"/>
<path class="p" d="M623.18 689.81L452.2 613.7" stroke-width="1.53"/>
<path class="p" d="M496.8 645.7L538.55 539.95" stroke-width="0.64"/>
<path class="g" d="M532.25 733.6L562.98 545.81" stroke-width="1.26"/>
<path class="g" d="M623.18 544.79L525.95 700.05" stroke-width="0.74"/>
<path class="p" d="M582.71 722.08L458.06 589.27" stroke-width="0.58"/>
<path class="p" d="M532.1 580.5L612.3 626.3" stroke-width="1.52"/>
<path class="p" d="M571 642.9L600.72 578.04" stroke-width="2.57"/>
<path class="p" d="M495.4 602.7L551 698.08" stroke-width="0.5"/>
<path class="p" d="M582.71 512.52L458.06 589.27" stroke-width="0.95"/>
<path class="g" d="M418.87 643.18L600.72 578.04" stroke-width="0.57"/>
<path class="g" d="M418.87 643.18L551 698.08" stroke-width="1.86"/>
<path class="g" d="M418.87 643.18L525.95 700.05" stroke-width="0.69"/>
<path class="g" d="M418.87 643.18L471.19 567.85" stroke-width="1.41"/>
<path class="g" d="M418.87 591.42L593.31 672.15" stroke-width="1.76"/>
<path class="g" d="M441.32 544.79L562.98 545.81" stroke-width="0.46"/>
<path class="g" d="M441.32 544.79L600.72 578.04" stroke-width="0.84"/>
<path class="g" d="M441.32 544.79L610.33 601.25" stroke-width="1.39"/>
<path class="g" d="M441.32 544.79L612.3 626.3" stroke-width="0.41"/>
<path class="g" d="M441.32 544.79L525.95 700.05" stroke-width="1.51"/>
<path class="g" d="M441.32 544.79L458.06 589.27" stroke-width="1.25"/>
<path class="g" d="M441.32 544.79L471.19 567.85" stroke-width="1.52"/>
<path class="g" d="M481.79 512.52L600.72 578.04" stroke-width="0.42"/>
<path class="g" d="M481.79 512.52L525.95 700.05" stroke-width="1.46"/>
<path class="g" d="M481.79 512.52L463.78 661.96" stroke-width="0.76"/>
<path class="g" d="M481.79 512.52L454.17 638.75" stroke-width="1.7"/>
<path class="g" d="M481.79 512.52L471.19 567.85" stroke-width="1.07"/>
<path class="g" d="M481.79 512.52L490.29 551.53" stroke-width="0.4"/>
<path class="g" d="M532.1 580.5L584.4 558.94" stroke-width="1.28"/>
<path class="g" d="M569 600.5L513.5 541.92" stroke-width="1.06"/>
<path class="g" d="M571 642.9L480.1 681.06" stroke-width="0.53"/>
<path class="g" d="M571 642.9L454.17 638.75" stroke-width="1.49"/>
<path class="g" d="M534.8 665.8L610.33 601.25" stroke-width="1.29"/>
<path class="g" d="M534.8 665.8L612.3 626.3" stroke-width="1.09"/>
<path class="g" d="M534.8 665.8L490.29 551.53" stroke-width="0.93"/>
<path class="g" d="M534.8 665.8L513.5 541.92" stroke-width="1.53"/>
<path class="g" d="M496.8 645.7L551 698.08" stroke-width="0.54"/>
<path class="g" d="M496.8 645.7L463.78 661.96" stroke-width="1.42"/>
<path class="g" d="M496.8 645.7L452.2 613.7" stroke-width="0.98"/>
<path class="g" d="M495.4 602.7L584.4 558.94" stroke-width="1.56"/>
<path class="g" d="M495.4 602.7L463.78 661.96" stroke-width="1.63"/>
<path class="g" d="M495.4 602.7L454.17 638.75" stroke-width="0.67"/>
<path class="g" d="M495.4 602.7L458.06 589.27" stroke-width="0.81"/>
</g>
<circle cx="532.25" cy="501" r="9.8" fill="#f3a735"/>
<circle cx="582.71" cy="512.52" r="9.8" fill="#f3a735"/>
<circle cx="623.18" cy="544.79" r="9.8" fill="#f3a735"/>
<circle cx="645.63" cy="591.42" r="9.8" fill="#f3a735"/>
<circle cx="645.63" cy="643.18" r="9.8" fill="#f3a735"/>
<circle cx="623.18" cy="689.81" r="9.8" fill="#f3a735"/>
<circle cx="582.71" cy="722.08" r="9.8" fill="#f3a735"/>
<circle cx="532.25" cy="733.6" r="9.8" fill="#f3a735"/>
<circle cx="481.79" cy="722.08" r="9.8" fill="#f3a735"/>
<circle cx="441.32" cy="689.81" r="9.8" fill="#f3a735"/>
<circle cx="418.87" cy="643.18" r="9.8" fill="#f3a735"/>
<circle cx="418.87" cy="591.42" r="9.8" fill="#f3a735"/>
<circle cx="441.32" cy="544.79" r="9.8" fill="#f3a735"/>
<circle cx="481.79" cy="512.52" r="9.8" fill="#f3a735"/>
<circle cx="532.1" cy="580.5" r="9.8" fill="#f3a735"/>
<circle cx="569" cy="600.5" r="9.8" fill="#f3a735"/>
<circle cx="571" cy="642.9" r="9.8" fill="#f3a735"/>
<circle cx="534.8" cy="665.8" r="9.8" fill="#f3a735"/>
<circle cx="496.8" cy="645.7" r="9.8" fill="#f3a735"/>
<circle cx="495.4" cy="602.7" r="9.8" fill="#f3a735"/>
<circle cx="538.55" cy="539.95" r="6.8" fill="#2e75b6"/>
<circle cx="562.98" cy="545.81" r="6.8" fill="#2e75b6"/>
<circle cx="584.4" cy="558.94" r="6.8" fill="#2e75b6"/>
<circle cx="600.72" cy="578.04" r="6.8" fill="#2e75b6"/>
<circle cx="610.33" cy="601.25" r="6.8" fill="#2e75b6"/>
<circle cx="612.3" cy="626.3" r="6.8" fill="#2e75b6"/>
<circle cx="606.44" cy="650.73" r="6.8" fill="#2e75b6"/>
<circle cx="593.31" cy="672.15" r="6.8" fill="#2e75b6"/>
<circle cx="574.21" cy="688.47" r="6.8" fill="#2e75b6"/>
<circle cx="551" cy="698.08" r="6.8" fill="#2e75b6"/>
<circle cx="525.95" cy="700.05" r="6.8" fill="#2e75b6"/>
<circle cx="501.52" cy="694.19" r="6.8" fill="#2e75b6"/>
<circle cx="480.1" cy="681.06" r="6.8" fill="#2e75b6"/>
<circle cx="463.78" cy="661.96" r="6.8" fill="#2e75b6"/>
<circle cx="454.17" cy="638.75" r="6.8" fill="#2e75b6"/>
<circle cx="452.2" cy="613.7" r="6.8" fill="#2e75b6"/>
<circle cx="458.06" cy="589.27" r="6.8" fill="#2e75b6"/>
<circle cx="471.19" cy="567.85" r="6.8" fill="#2e75b6"/>
<circle cx="490.29" cy="551.53" r="6.8" fill="#2e75b6"/>
<circle cx="513.5" cy="541.92" r="6.8" fill="#2e75b6"/>
<g class="nl" font-family='"Liberation Sans", Arial, Helvetica, sans-serif' text-anchor="middle" fill="#000">
<text x="532.25" y="504" font-size="8.7">Rhodomicrobium</text>
<text x="582.71" y="515.52" font-size="8.7">Acidibacillus</text>
<text x="623.18" y="547.79" font-size="8.7">Pseudorhodoferax</text>
<text x="645.63" y="594.42" font-size="8.7">Sanguibacteroides</text>
<text x="645.63" y="646.18" font-size="8.7">Rickettsia</text>
<text x="623.18" y="692.81" font-size="8.7">Lawsonia</text>
<text x="582.71" y="725.08" font-size="8.7">Brachybacterium</text>
<text x="532.25" y="736.6" font-size="8.7">Gordonia</text>
<text x="481.79" y="725.08" font-size="8.7">Microvirga</text>
<text x="441.32" y="692.81" font-size="8.7">Listeria</text>
<text x="418.87" y="646.18" font-size="8.7">Dysgonomonas</text>
<text x="418.87" y="594.42" font-size="8.7">Sulfolobus</text>
<text x="441.32" y="547.79" font-size="8.7">Mannheimia</text>
<text x="481.79" y="515.52" font-size="8.7">Wolbachia</text>
<text x="532.1" y="583.5" font-size="8.7">Candidatus_Nitrosopelagicus</text>
<text x="569" y="603.5" font-size="8.7">Nitrospina</text>
<text x="571" y="645.9" font-size="8.7">Campylobacter</text>
<text x="534.8" y="668.8" font-size="8.7">Brucella</text>
<text x="496.8" y="648.7" font-size="8.7">Kamptonema</text>
<text x="495.4" y="605.7" font-size="8.7">Leifsonia</text>
<text x="538.55" y="542.55" font-size="7.5">PIGU</text>
<text x="562.98" y="548.41" font-size="7.5">SETD1A</text>
<text x="584.4" y="561.54" font-size="7.5">PDCD6IP</text>
<text x="600.72" y="580.64" font-size="7.5">COX6C</text>
<text x="610.33" y="603.85" font-size="7.5">NDUFA13</text>
<text x="612.3" y="628.9" font-size="7.5">TAB2</text>
<text x="606.44" y="653.33" font-size="7.5">WDR83</text>
<text x="593.31" y="674.75" font-size="7.5">TMEM208</text>
<text x="574.21" y="691.07" font-size="7.5">ATG9A</text>
<text x="551" y="700.68" font-size="7.5">BECN1</text>
<text x="525.95" y="702.65" font-size="7.5">RIC8A</text>
<text x="501.52" y="696.79" font-size="7.5">F8A1</text>
<text x="480.1" y="683.66" font-size="7.5">STAT1</text>
<text x="463.78" y="664.56" font-size="7.5">PCBP2</text>
<text x="454.17" y="641.35" font-size="7.5">TAP1</text>
<text x="452.2" y="616.3" font-size="7.5">HIRA</text>
<text x="458.06" y="591.87" font-size="7.5">DET1</text>
<text x="471.19" y="570.45" font-size="7.5">SRRT</text>
<text x="490.29" y="554.13" font-size="7.5">TGFBR2</text>
<text x="513.5" y="544.52" font-size="7.5">CCNQP1</text>
</g>
<g fill="none">
<path class="g" d="M347.2 723.94L299.7 807.2" stroke-width="1.33"/>
<path class="g" d="M368.42 734.66L359.05 808.5" stroke-width="0.88"/>
<path class="g" d="M402.52 767.4L359.05 808.5" stroke-width="1.33"/>
<path class="g" d="M421.37 810.81L359.05 808.5" stroke-width="1.03"/>
<path class="g" d="M422.12 858.28L297.4 833.3" stroke-width="0.9"/>
<path class="g" d="M422.12 858.28L359.05 808.5" stroke-width="0.73"/>
<path class="g" d="M371.59 936.99L306.1 781.5" stroke-width="0.36"/>
<path class="g" d="M371.59 936.99L359.05 808.5" stroke-width="0.36"/>
<path class="g" d="M328.01 956.24L359.05 837.3" stroke-width="1.29"/>
<path class="g" d="M280.54 957.22L303.8 859" stroke-width="1.19"/>
<path class="g" d="M257.6 950.65L299.7 807.2" stroke-width="0.41"/>
<path class="g" d="M257.6 950.65L297.4 833.3" stroke-width="0.45"/>
<path class="g" d="M236.38 939.74L299.7 807.2" stroke-width="1.1"/>
<path class="g" d="M217.71 924.9L299.7 807.2" stroke-width="0.89"/>
<path class="g" d="M202.28 906.69L303.8 859" stroke-width="0.4"/>
<path class="g" d="M190.71 885.83L297.4 833.3" stroke-width="0.91"/>
<path class="g" d="M183.43 863.11L297.4 833.3" stroke-width="0.41"/>
<path class="g" d="M183.43 863.11L317.5 882.9" stroke-width="1.16"/>
<path class="g" d="M182.68 815.64L306.1 781.5" stroke-width="0.55"/>
<path class="g" d="M200.16 771.48L359.05 808.5" stroke-width="0.92"/>
<path class="g" d="M215 752.81L303.8 859" stroke-width="0.5"/>
<path class="g" d="M233.21 737.38L299.7 807.2" stroke-width="0.42"/>
<path class="g" d="M233.21 737.38L359.05 837.3" stroke-width="0.35"/>
<path class="g" d="M254.07 725.81L306.1 781.5" stroke-width="0.3"/>
<path class="g" d="M254.07 725.81L317.5 882.9" stroke-width="1.15"/>
<path class="g" d="M276.79 718.53L306.1 781.5" stroke-width="0.3"/>
<path class="g" d="M334.57 754.06L303.8 859" stroke-width="0.39"/>
<path class="g" d="M308.19 920.59L306.1 781.5" stroke-width="0.63"/>
<path class="g" d="M278.83 915.94L306.1 781.5" stroke-width="0.96"/>
<path class="g" d="M233.33 879.09L297.4 833.3" stroke-width="0.57"/>
<path class="g" d="M222.67 851.33L306.1 781.5" stroke-width="0.45"/>
<path class="g" d="M222.67 851.33L297.4 833.3" stroke-width="0.67"/>
<path class="g" d="M222.15 821.61L306.1 781.5" stroke-width="1.32"/>
<path class="g" d="M222.15 821.61L299.7 807.2" stroke-width="0.69"/>
<path class="g" d="M231.83 793.5L303.8 859" stroke-width="0.6"/>
<path class="g" d="M250.54 770.4L317.5 882.9" stroke-width="0.4"/>
<path class="g" d="M276.02 755.09L299.7 807.2" stroke-width="1.2"/>
<path class="g" d="M276.02 755.09L359.05 837.3" stroke-width="0.45"/>
<path class="p" d="M189.25 792.7L306.1 781.5" stroke-width="0.86"/>
<path class="g" d="M200.16 771.48L306.1 781.5" stroke-width="1.08"/>
<path class="g" d="M202.28 906.69L306.1 781.5" stroke-width="0.6"/>
<path class="p" d="M387.09 749.34L299.7 807.2" stroke-width="1.14"/>
<path class="p" d="M324.26 717.58L303.8 859" stroke-width="0.4"/>
<path class="g" d="M421.37 810.81L303.8 859" stroke-width="1.23"/>
<path class="p" d="M424.08 834.49L306.1 781.5" stroke-width="1.03"/>
<path class="p" d="M276.79 718.53L297.4 833.3" stroke-width="0.57"/>
<path class="p" d="M421.37 810.81L317.5 882.9" stroke-width="1.07"/>
<path class="g" d="M189.25 792.7L299.7 807.2" stroke-width="0.51"/>
<path class="p" d="M389.8 921.4L297.4 833.3" stroke-width="0.73"/>
<path class="p" d="M371.59 936.99L317.5 882.9" stroke-width="0.82"/>
<path class="p" d="M402.52 767.4L306.1 781.5" stroke-width="0.64"/>
<path class="p" d="M300.49 715.82L299.7 807.2" stroke-width="1.35"/>
<path class="p" d="M308.19 920.59L303.8 859" stroke-width="1.11"/>
<path class="p" d="M347.2 723.94L317.5 882.9" stroke-width="1.01"/>
<path class="g" d="M217.71 924.9L297.4 833.3" stroke-width="0.92"/>
<path class="g" d="M280.54 957.22L317.5 882.9" stroke-width="0.4"/>
<path class="p" d="M222.67 851.33L299.7 807.2" stroke-width="1.23"/>
<path class="p" d="M324.26 717.58L317.5 882.9" stroke-width="0.87"/>
<path class="p" d="M340 912.9L299.7 807.2" stroke-width="1.26"/>
<path class="p" d="M414.09 788.16L359.05 808.5" stroke-width="0.89"/>
<path class="g" d="M257.6 950.65L303.8 859" stroke-width="1.17"/>
<path class="p" d="M347.2 723.94L359.05 837.3" stroke-width="0.58"/>
<path class="g" d="M182.68 815.64L317.5 882.9" stroke-width="1.27"/>
<path class="p" d="M257.6 950.65L306.1 781.5" stroke-width="0.87"/>
<path class="p" d="M308.19 920.59L299.7 807.2" stroke-width="1.14"/>
<path class="p" d="M402.52 767.4L317.5 882.9" stroke-width="0.49"/>
<path class="p" d="M389.8 921.4L317.5 882.9" stroke-width="0.86"/>
<path class="p" d="M215 752.81L299.7 807.2" stroke-width="1.11"/>
<path class="p" d="M414.09 788.16L303.8 859" stroke-width="1.14"/>
<path class="g" d="M387.09 749.34L303.8 859" stroke-width="1.1"/>
<path class="g" d="M300.49 715.82L303.8 859" stroke-width="0.72"/>
<path class="p" d="M421.37 810.81L297.4 833.3" stroke-width="0.54"/>
<path class="p" d="M389.8 921.4L359.05 808.5" stroke-width="0.43"/>
<path class="p" d="M371.59 936.99L359.05 837.3" stroke-width="0.45"/>
<path class="p" d="M215 752.81L297.4 833.3" stroke-width="1.41"/>
<path class="p" d="M402.52 767.4L299.7 807.2" stroke-width="1.1"/>
<path class="g" d="M347.2 723.94L359.05 808.5" stroke-width="0.96"/>
<path class="p" d="M402.52 767.4L303.8 859" stroke-width="1.2"/>
<path class="p" d="M200.16 771.48L297.4 833.3" stroke-width="1.19"/>
<path class="g" d="M324.26 717.58L299.7 807.2" stroke-width="0.8"/>
<path class="p" d="M334.57 754.06L299.7 807.2" stroke-width="1.2"/>
<path class="p" d="M340 912.9L306.1 781.5" stroke-width="1.18"/>
<path class="p" d="M350.73 948.75L306.1 781.5" stroke-width="0.43"/>
<path class="p" d="M414.09 788.16L359.05 837.3" stroke-width="0.55"/>
<path class="g" d="M189.25 792.7L303.8 859" stroke-width="1.05"/>
<path class="p" d="M404.64 902.59L297.4 833.3" stroke-width="1.42"/>
<path class="p" d="M362.8 897.5L317.5 882.9" stroke-width="0.47"/>
<path class="p" d="M347.2 723.94L306.1 781.5" stroke-width="0.61"/>
<path class="p" d="M233.33 879.09L306.1 781.5" stroke-width="1.38"/>
<path class="g" d="M421.37 810.81L299.7 807.2" stroke-width="1.08"/>
<path class="p" d="M421.37 810.81L359.05 837.3" stroke-width="0.8"/>
<path class="g" d="M350.73 948.75L359.05 837.3" stroke-width="0.56"/>
<path class="p" d="M371.59 936.99L297.4 833.3" stroke-width="1.32"/>
<path class="p" d="M387.09 749.34L306.1 781.5" stroke-width="1.18"/>
<path class="p" d="M368.42 734.66L303.8 859" stroke-width="0.59"/>
<path class="p" d="M217.71 924.9L303.8 859" stroke-width="0.68"/>
<path class="p" d="M368.42 734.66L297.4 833.3" stroke-width="1.06"/>
<path class="p" d="M340 912.9L297.4 833.3" stroke-width="0.43"/>
<path class="p" d="M414.09 788.16L306.1 781.5" stroke-width="0.85"/>
<path class="g" d="M300.49 715.82L317.5 882.9" stroke-width="1.13"/>
<path class="p" d="M362.8 897.5L299.7 807.2" stroke-width="1.15"/>
<path class="p" d="M350.73 948.75L299.7 807.2" stroke-width="1.02"/>
<path class="p" d="M254.07 725.81L303.8 859" stroke-width="0.53"/>
<path class="p" d="M304.31 959.17L306.1 781.5" stroke-width="1.12"/>
<path class="p" d="M371.59 936.99L299.7 807.2" stroke-width="0.52"/>
<path class="p" d="M304.31 959.17L297.4 833.3" stroke-width="0.42"/>
<path class="g" d="M180.72 839.41L299.7 807.2" stroke-width="1.18"/>
<path class="p" d="M404.64 902.59L359.05 808.5" stroke-width="1.39"/>
<path class="g" d="M189.25 792.7L297.4 833.3" stroke-width="0.36"/>
<path class="p" d="M308.19 920.59L359.05 837.3" stroke-width="1.37"/>
<path class="g" d="M190.71 885.83L299.7 807.2" stroke-width="0.52"/>
<path class="p" d="M350.73 948.75L303.8 859" stroke-width="1.08"/>
<path class="p" d="M334.57 754.06L359.05 837.3" stroke-width="0.93"/>
<path class="p" d="M404.64 902.59L299.7 807.2" stroke-width="0.42"/>
<path class="p" d="M424.08 834.49L299.7 807.2" stroke-width="0.93"/>
<path class="p" d="M252.83 901.52L359.05 837.3" stroke-width="0.85"/>
<path class="g" d="M415.55 881.28L297.4 833.3" stroke-width="0.34"/>
<path class="p" d="M300.49 715.82L297.4 833.3" stroke-width="1.1"/>
<path class="p" d="M217.71 924.9L317.5 882.9" stroke-width="0.56"/>
<path class="g" d="M347.2 723.94L297.4 833.3" stroke-width="0.44"/>
<path class="g" d="M368.42 734.66L299.7 807.2" stroke-width="1.18"/>
<path class="g" d="M202.28 906.69L297.4 833.3" stroke-width="0.3"/>
<path class="g" d="M200.16 771.48L317.5 882.9" stroke-width="0.95"/>
<path class="g" d="M300.49 715.82L306.1 781.5" stroke-width="0.89"/>
<path class="g" d="M371.59 936.99L303.8 859" stroke-width="0.66"/>
<path class="p" d="M334.57 754.06L359.05 808.5" stroke-width="0.64"/>
<path class="p" d="M280.54 957.22L359.05 808.5" stroke-width="0.72"/>
<path class="p" d="M308.19 920.59L317.5 882.9" stroke-width="0.4"/>
<path class="p" d="M415.55 881.28L359.05 837.3" stroke-width="0.41"/>
<path class="p" d="M324.26 717.58L359.05 808.5" stroke-width="0.4"/>
<path class="p" d="M334.57 754.06L317.5 882.9" stroke-width="0.49"/>
<path class="g" d="M180.72 839.41L306.1 781.5" stroke-width="0.76"/>
<path class="g" d="M236.38 939.74L306.1 781.5" stroke-width="0.38"/>
<path class="p" d="M389.8 921.4L306.1 781.5" stroke-width="0.49"/>
<path class="p" d="M368.42 734.66L306.1 781.5" stroke-width="0.89"/>
<path class="p" d="M389.8 921.4L299.7 807.2" stroke-width="0.97"/>
<path class="p" d="M328.01 956.24L303.8 859" stroke-width="1.03"/>
<path class="p" d="M304.31 959.17L303.8 859" stroke-width="0.41"/>
<path class="p" d="M328.01 956.24L317.5 882.9" stroke-width="1.22"/>
<path class="p" d="M424.08 834.49L359.05 837.3" stroke-width="0.4"/>
<path class="g" d="M236.38 939.74L317.5 882.9" stroke-width="0.9"/>
<path class="p" d="M368.42 734.66L359.05 837.3" stroke-width="0.51"/>
<path class="p" d="M414.09 788.16L297.4 833.3" stroke-width="0.78"/>
<path class="g" d="M202.28 906.69L299.7 807.2" stroke-width="0.98"/>
<path class="p" d="M328.01 956.24L297.4 833.3" stroke-width="1.37"/>
<path class="p" d="M254.07 725.81L299.7 807.2" stroke-width="0.81"/>
<path class="p" d="M414.09 788.16L299.7 807.2" stroke-width="1.34"/>
<path class="p" d="M304.31 959.17L299.7 807.2" stroke-width="0.4"/>
<path class="g" d="M200.16 771.48L303.8 859" stroke-width="0.35"/>
<path class="p" d="M389.8 921.4L303.8 859" stroke-width="0.43"/>
<path class="p" d="M387.09 749.34L297.4 833.3" stroke-width="1.29"/>
<path class="p" d="M402.52 767.4L297.4 833.3" stroke-width="1.12"/>
<path class="p" d="M389.8 921.4L359.05 837.3" stroke-width="0.54"/>
<path class="p" d="M350.73 948.75L317.5 882.9" stroke-width="0.87"/>
<path class="p" d="M422.12 858.28L317.5 882.9" stroke-width="0.65"/>
<path class="p" d="M422.12 858.28L299.7 807.2" stroke-width="0.84"/>
<path class="p" d="M350.73 948.75L359.05 808.5" stroke-width="0.52"/>
<path class="p" d="M404.64 902.59L306.1 781.5" stroke-width="0.44"/>
<path class="p" d="M340 912.9L317.5 882.9" stroke-width="0.49"/>
<path class="p" d="M362.8 897.5L303.8 859" stroke-width="1.38"/>
<path class="p" d="M328.01 956.24L306.1 781.5" stroke-width="0.62"/>
<path class="g" d="M236.38 939.74L297.4 833.3" stroke-width="0.64"/>
<path class="p" d="M350.73 948.75L297.4 833.3" stroke-width="0.86"/>
<path class="p" d="M328.01 956.24L359.05 808.5" stroke-width="0.96"/>
<path class="g" d="M217.71 924.9L306.1 781.5" stroke-width="0.56"/>
<path class="g" d="M189.25 792.7L317.5 882.9" stroke-width="0.38"/>
<path class="g" d="M404.64 902.59L317.5 882.9" stroke-width="0.82"/>
<path class="p" d="M422.12 858.28L303.8 859" stroke-width="0.83"/>
<path class="p" d="M183.43 863.11L306.1 781.5" stroke-width="0.77"/>
<path class="g" d="M324.26 717.58L297.4 833.3" stroke-width="0.45"/>
<path class="p" d="M387.09 749.34L317.5 882.9" stroke-width="1.16"/>
<path class="p" d="M415.55 881.28L317.5 882.9" stroke-width="0.94"/>
<path class="p" d="M308.19 920.59L297.4 833.3" stroke-width="1.17"/>
<path class="g" d="M368.42 734.66L317.5 882.9" stroke-width="1.34"/>
<path class="p" d="M404.64 902.59L303.8 859" stroke-width="1.34"/>
<path class="p" d="M421.37 810.81L306.1 781.5" stroke-width="0.75"/>
<path class="g" d="M324.26 717.58L306.1 781.5" stroke-width="1.12"/>
<path class="p" d="M424.08 834.49L297.4 833.3" stroke-width="0.67"/>
<path class="g" d="M215 752.81L306.1 781.5" stroke-width="0.33"/>
<path class="g" d="M215 752.81L359.05 837.3" stroke-width="0.71"/>
<path class="g" d="M233.21 737.38L306.1 781.5" stroke-width="0.58"/>
<path class="g" d="M233.21 737.38L297.4 833.3" stroke-width="0.37"/>
<path class="g" d="M233.21 737.38L303.8 859" stroke-width="0.87"/>
<path class="g" d="M233.21 737.38L317.5 882.9" stroke-width="1.3"/>
<path class="g" d="M254.07 725.81L359.05 808.5" stroke-width="0.47"/>
<path class="g" d="M276.79 718.53L303.8 859" stroke-width="0.58"/>
<path class="g" d="M276.79 718.53L317.5 882.9" stroke-width="0.6"/>
<path class="g" d="M305.21 749.41L306.1 781.5" stroke-width="0.58"/>
<path class="g" d="M305.21 749.41L299.7 807.2" stroke-width="0.46"/>
<path class="g" d="M305.21 749.41L297.4 833.3" stroke-width="1.29"/>
<path class="g" d="M305.21 749.41L317.5 882.9" stroke-width="0.3"/>
<path class="g" d="M305.21 749.41L359.05 808.5" stroke-width="0.41"/>
<path class="g" d="M362.8 897.5L306.1 781.5" stroke-width="1.09"/>
<path class="g" d="M362.8 897.5L297.4 833.3" stroke-width="0.38"/>
<path class="g" d="M340 912.9L303.8 859" stroke-width="0.54"/>
<path class="g" d="M308.19 920.59L359.05 808.5" stroke-width="0.46"/>
<path class="g" d="M278.83 915.94L299.7 807.2" stroke-width="1"/>
<path class="g" d="M278.83 915.94L297.4 833.3" stroke-width="0.38"/>
<path class="g" d="M278.83 915.94L317.5 882.9" stroke-width="0.36"/>
<path class="g" d="M278.83 915.94L359.05 837.3" stroke-width="0.66"/>
<path class="g" d="M252.83 901.52L306.1 781.5" stroke-width="0.8"/>
<path class="g" d="M252.83 901.52L299.7 807.2" stroke-width="0.35"/>
<path class="g" d="M252.83 901.52L297.4 833.3" stroke-width="1.16"/>
<path class="g" d="M233.33 879.09L299.7 807.2" stroke-width="1.21"/>
<path class="g" d="M222.67 851.33L303.8 859" stroke-width="0.79"/>
<path class="g" d="M222.67 851.33L317.5 882.9" stroke-width="0.94"/>
<path class="g" d="M222.15 821.61L303.8 859" stroke-width="0.63"/>
<path class="g" d="M222.15 821.61L317.5 882.9" stroke-width="1.13"/>
<path class="g" d="M231.83 793.5L297.4 833.3" stroke-width="0.32"/>
<path class="g" d="M250.54 770.4L306.1 781.5" stroke-width="0.41"/>
<path class="g" d="M250.54 770.4L299.7 807.2" stroke-width="0.8"/>
<path class="g" d="M250.54 770.4L297.4 833.3" stroke-width="1.08"/>
<path class="g" d="M250.54 770.4L303.8 859" stroke-width="0.59"/>
<path class="g" d="M250.54 770.4L359.05 808.5" stroke-width="0.34"/>
<path class="g" d="M276.02 755.09L297.4 833.3" stroke-width="0.77"/>
<path class="g" d="M276.02 755.09L303.8 859" stroke-width="1.25"/>
</g>
<g stroke="#c2c2c2" stroke-width="1.4" fill="none">
<path d="M359.05 808.5L306.1 781.5"/>
<path d="M359.05 808.5L299.7 807.2"/>
<path d="M359.05 837.3L297.4 833.3"/>
<path d="M359.05 837.3L303.8 859"/>
<path d="M359.05 837.3L317.5 882.9"/>
</g>
<circle cx="300.49" cy="715.82" r="4.5" fill="#2e75b6"/>
<circle cx="324.26" cy="717.58" r="4.5" fill="#2e75b6"/>
<circle cx="347.2" cy="723.94" r="4.5" fill="#2e75b6"/>
<circle cx="368.42" cy="734.66" r="4.5" fill="#2e75b6"/>
<circle cx="387.09" cy="749.34" r="4.5" fill="#2e75b6"/>
<circle cx="402.52" cy="767.4" r="4.5" fill="#2e75b6"/>
<circle cx="414.09" cy="788.16" r="4.5" fill="#2e75b6"/>
<circle cx="421.37" cy="810.81" r="4.5" fill="#2e75b6"/>
<circle cx="424.08" cy="834.49" r="4.5" fill="#2e75b6"/>
<circle cx="422.12" cy="858.28" r="4.5" fill="#2e75b6"/>
<circle cx="415.55" cy="881.28" r="4.5" fill="#2e75b6"/>
<circle cx="404.64" cy="902.59" r="4.5" fill="#2e75b6"/>
<circle cx="389.8" cy="921.4" r="4.5" fill="#2e75b6"/>
<circle cx="371.59" cy="936.99" r="4.5" fill="#2e75b6"/>
<circle cx="350.73" cy="948.75" r="4.5" fill="#2e75b6"/>
<circle cx="328.01" cy="956.24" r="4.5" fill="#2e75b6"/>
<circle cx="304.31" cy="959.17" r="4.5" fill="#2e75b6"/>
<circle cx="280.54" cy="957.22" r="4.5" fill="#2e75b6"/>
<circle cx="257.6" cy="950.65" r="4.5" fill="#2e75b6"/>
<circle cx="236.38" cy="939.74" r="4.5" fill="#2e75b6"/>
<circle cx="217.71" cy="924.9" r="4.5" fill="#2e75b6"/>
<circle cx="202.28" cy="906.69" r="4.5" fill="#2e75b6"/>
<circle cx="190.71" cy="885.83" r="4.5" fill="#2e75b6"/>
<circle cx="183.43" cy="863.11" r="4.5" fill="#2e75b6"/>
<circle cx="180.72" cy="839.41" r="4.5" fill="#2e75b6"/>
<circle cx="182.68" cy="815.64" r="4.5" fill="#2e75b6"/>
<circle cx="189.25" cy="792.7" r="4.5" fill="#2e75b6"/>
<circle cx="200.16" cy="771.48" r="4.5" fill="#2e75b6"/>
<circle cx="215" cy="752.81" r="4.5" fill="#2e75b6"/>
<circle cx="233.21" cy="737.38" r="4.5" fill="#2e75b6"/>
<circle cx="254.07" cy="725.81" r="4.5" fill="#2e75b6"/>
<circle cx="276.79" cy="718.53" r="4.5" fill="#2e75b6"/>
<circle cx="305.21" cy="749.41" r="4.5" fill="#2e75b6"/>
<circle cx="334.57" cy="754.06" r="4.5" fill="#2e75b6"/>
<circle cx="362.8" cy="897.5" r="4.5" fill="#2e75b6"/>
<circle cx="340" cy="912.9" r="4.5" fill="#2e75b6"/>
<circle cx="308.19" cy="920.59" r="4.5" fill="#2e75b6"/>
<circle cx="278.83" cy="915.94" r="4.5" fill="#2e75b6"/>
<circle cx="252.83" cy="901.52" r="4.5" fill="#2e75b6"/>
<circle cx="233.33" cy="879.09" r="4.5" fill="#2e75b6"/>
<circle cx="222.67" cy="851.33" r="4.5" fill="#2e75b6"/>
<circle cx="222.15" cy="821.61" r="4.5" fill="#2e75b6"/>
<circle cx="231.83" cy="793.5" r="4.5" fill="#2e75b6"/>
<circle cx="250.54" cy="770.4" r="4.5" fill="#2e75b6"/>
<circle cx="276.02" cy="755.09" r="4.5" fill="#2e75b6"/>
<rect x="299" y="774.4" width="14.2" height="14.2" rx="1.6" fill="#a5141a"/>
<rect x="292.6" y="800.1" width="14.2" height="14.2" rx="1.6" fill="#a5141a"/>
<rect x="290.3" y="826.2" width="14.2" height="14.2" rx="1.6" fill="#a5141a"/>
<rect x="296.7" y="851.9" width="14.2" height="14.2" rx="1.6" fill="#a5141a"/>
<rect x="310.4" y="875.8" width="14.2" height="14.2" rx="1.6" fill="#a5141a"/>
<rect x="351.8" y="793.9" width="14.5" height="29.3" fill="#cfcfcf"/>
<rect x="351.8" y="823.1" width="14.5" height="28.5" fill="#5a9a5e"/>
<g class="nl" font-family='"Liberation Sans", Arial, Helvetica, sans-serif' text-anchor="middle" fill="#000">
<text x="300.49" y="718.22" font-size="6">Kaistia</text>
<text x="324.26" y="719.98" font-size="6">Simiduia</text>
<text x="347.2" y="726.34" font-size="6">Methylosinus</text>
<text x="368.42" y="737.06" font-size="6">Mesonia</text>
<text x="387.09" y="751.74" font-size="6">Flammeovirga</text>
<text x="402.52" y="769.8" font-size="6">Pediococcus</text>
<text x="414.09" y="790.56" font-size="6">Vitreoscilla</text>
<text x="421.37" y="813.21" font-size="6">Brachybacterium</text>
<text x="424.08" y="836.89" font-size="6">Halioglobus</text>
<text x="422.12" y="860.68" font-size="6">Sunxiuqinia</text>
<text x="415.55" y="883.68" font-size="6">Hydrogenobacter</text>
<text x="404.64" y="904.99" font-size="6">Candidatus_Contendobacter</text>
<text x="389.8" y="923.8" font-size="6">Thermosediminibacter</text>
<text x="371.59" y="939.39" font-size="6">Nonomuraea</text>
<text x="350.73" y="951.15" font-size="6">Geobacillus</text>
<text x="328.01" y="958.64" font-size="6">Sulfolobus</text>
<text x="304.31" y="961.57" font-size="6">Xylophilus</text>
<text x="280.54" y="959.62" font-size="6">Salisaeta</text>
<text x="257.6" y="953.05" font-size="6">Sutterella</text>
<text x="236.38" y="942.14" font-size="6">Candidatus_Nitrosopelagicus</text>
<text x="217.71" y="927.3" font-size="6">Lawsonia</text>
<text x="202.28" y="909.09" font-size="6">Desulfonatronospira</text>
<text x="190.71" y="888.23" font-size="6">Candidatus_Paracaedibacter</text>
<text x="183.43" y="865.51" font-size="6">Amycolatopsis</text>
<text x="180.72" y="841.81" font-size="6">Oblitimonas</text>
<text x="182.68" y="818.04" font-size="6">Thiolapillus</text>
<text x="189.25" y="795.1" font-size="6">Rhodomicrobium</text>
<text x="200.16" y="773.88" font-size="6">Salsuginibacillus</text>
<text x="215" y="755.21" font-size="6">Obesumbacterium</text>
<text x="233.21" y="739.78" font-size="6">Marinagarivorans</text>
<text x="254.07" y="728.21" font-size="6">Carnimonas</text>
<text x="276.79" y="720.93" font-size="6">Oceanobacter</text>
<text x="305.21" y="751.81" font-size="6">Dichelobacter</text>
<text x="334.57" y="756.46" font-size="6">Pseudohongiella</text>
<text x="362.8" y="899.9" font-size="6">Gordonia</text>
<text x="340" y="915.3" font-size="6">Enteractinococcus</text>
<text x="308.19" y="922.99" font-size="6">Kamptonema</text>
<text x="278.83" y="918.34" font-size="6">Ornithobacterium</text>
<text x="252.83" y="903.92" font-size="6">Halotalea</text>
<text x="233.33" y="881.49" font-size="6">Nivispirillum</text>
<text x="222.67" y="853.73" font-size="6">Kurthia</text>
<text x="222.15" y="824.01" font-size="6">Sulfuricurvum</text>
<text x="231.83" y="795.9" font-size="6">Acidibacillus</text>
<text x="250.54" y="772.8" font-size="6">Campylobacter</text>
<text x="276.02" y="757.49" font-size="6">Leucothrix</text>
<text x="305.3" y="779.1" font-size="7.3">Macrophages</text>
<text x="305.3" y="787.5" font-size="7.3">M0</text>
<text x="298.9" y="804.8" font-size="7.3">T cells CD4</text>
<text x="298.9" y="813.2" font-size="7.3">naive</text>
<text x="296.6" y="830.9" font-size="7.3">B cells</text>
<text x="296.6" y="839.3" font-size="7.3">memory</text>
<text x="303.8" y="861.5" font-size="7.3">Neutrophils</text>
<text x="317.5" y="885.4" font-size="7.3">T cells CD8</text>
<text x="359.05" y="811.4" font-size="8.3">LScore</text>
<text x="359.05" y="840.2" font-size="8.3">HScore</text>
</g>
</svg>
</body></html>
